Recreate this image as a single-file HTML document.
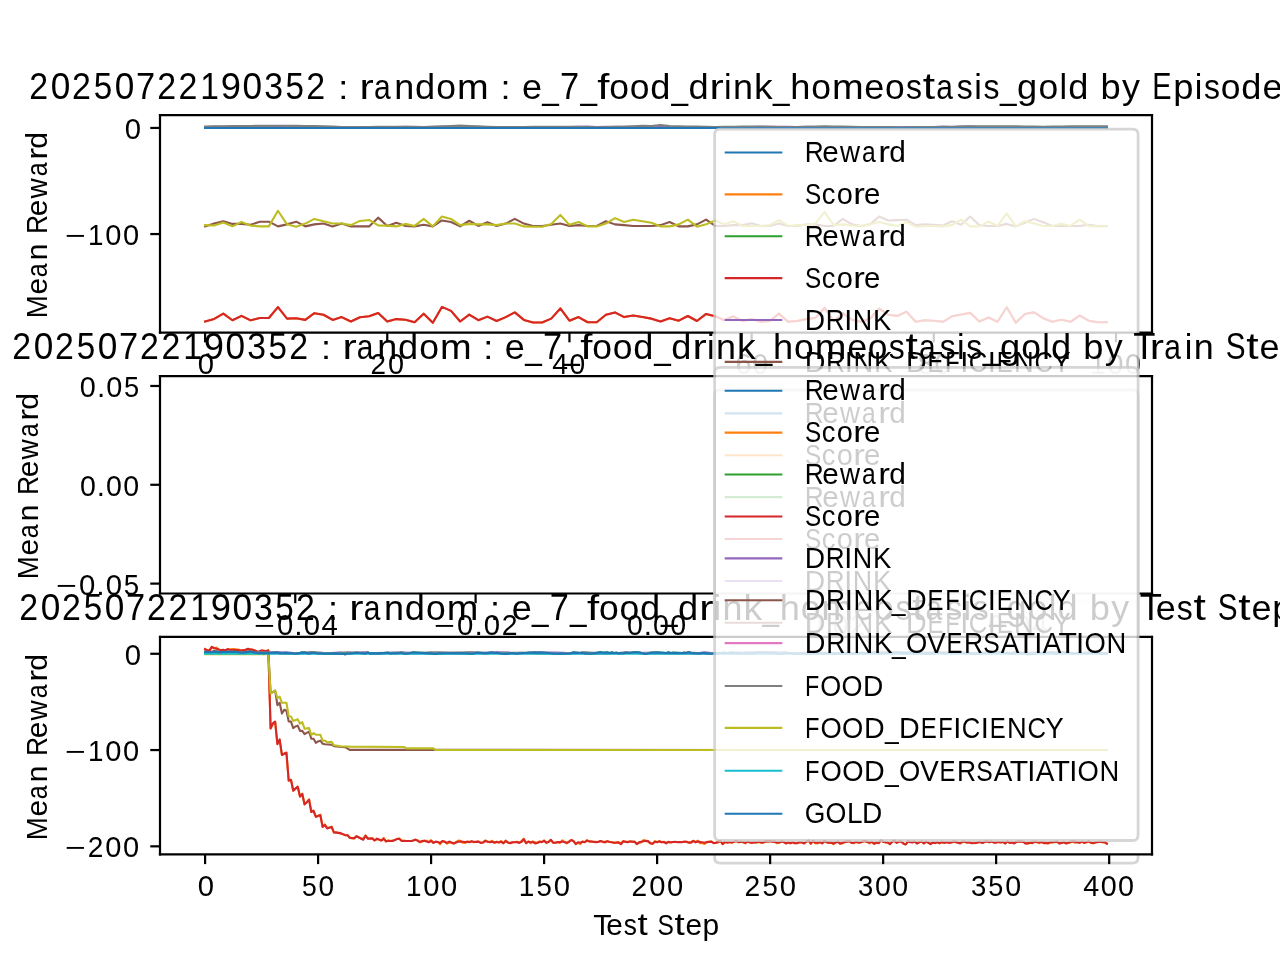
<!DOCTYPE html>
<html><head><meta charset="utf-8"><title>chart</title><style>html,body{margin:0;padding:0;background:#fff;width:1280px;height:960px;overflow:hidden}svg{display:block;will-change:transform}</style></head><body>
<svg width="1280" height="960" viewBox="0 0 460.8 345.6" version="1.1"> <defs> <style type="text/css">*{stroke-linejoin: round; stroke-linecap: butt}</style> </defs> <g id="figure_1"> <g id="patch_1"> <path d="M 0 345.6 L 460.8 345.6 L 460.8 0 L 0 0 z " style="fill: #ffffff"/> </g> <g id="axes_1"> <g id="patch_2"> <path d="M 57.6 119.74 L 414.72 119.74 L 414.72 41.47 L 57.6 41.47 z " style="fill: #ffffff"/> </g> <g id="matplotlib.axis_1"> <g id="xtick_1"> <g id="line2d_1"> <defs> <path id="m082732734f" d="M 0 0 L 0 3.5 " style="stroke: #000000; stroke-width: 0.8"/> </defs> <g> <use href="#m082732734f" x="73.83" y="119.74" style="stroke: #000000; stroke-width: 0.8"/> </g> </g> <g id="text_1"> <text x="71.23" y="134.66" textLength="5.86" lengthAdjust="spacingAndGlyphs" style="font-size:10.55px;font-family:'Liberation Sans',sans-serif;font-kerning:none" transform="rotate(-0 73.83 134.66)">0</text> </g> </g> <g id="xtick_2"> <g id="line2d_2"> <g> <use href="#m082732734f" x="139.41" y="119.74" style="stroke: #000000; stroke-width: 0.8"/> </g> </g> <g id="text_2"> <g style="font-size:10.55px;font-family:'Liberation Sans',sans-serif;font-kerning:none" transform="rotate(-0 139.41 134.66)"><text x="133.42" y="134.66" textLength="5.58" lengthAdjust="spacingAndGlyphs" font-size="10.84">2</text><text x="139.70" y="134.66" textLength="5.78" lengthAdjust="spacingAndGlyphs" font-size="10.84">0</text></g> </g> </g> <g id="xtick_3"> <g id="line2d_3"> <g> <use href="#m082732734f" x="205.00" y="119.74" style="stroke: #000000; stroke-width: 0.8"/> </g> </g> <g id="text_3"> <g style="font-size:10.55px;font-family:'Liberation Sans',sans-serif;font-kerning:none" transform="rotate(-0 205.00 134.66)"><text x="198.85" y="134.66" textLength="5.66" lengthAdjust="spacingAndGlyphs" font-size="10.81">4</text><text x="204.98" y="134.66" textLength="5.66" lengthAdjust="spacingAndGlyphs" font-size="10.84">0</text></g> </g> </g> <g id="xtick_4"> <g id="line2d_4"> <g> <use href="#m082732734f" x="270.59" y="119.74" style="stroke: #000000; stroke-width: 0.8"/> </g> </g> <g id="text_4"> <g style="font-size:10.55px;font-family:'Liberation Sans',sans-serif;font-kerning:none" transform="rotate(-0 270.59 134.66)"><text x="264.79" y="134.66" textLength="5.78" lengthAdjust="spacingAndGlyphs" font-size="10.84">6</text><text x="270.93" y="134.66" textLength="5.58" lengthAdjust="spacingAndGlyphs" font-size="10.84">0</text></g> </g> </g> <g id="xtick_5"> <g id="line2d_5"> <g> <use href="#m082732734f" x="336.17" y="119.74" style="stroke: #000000; stroke-width: 0.8"/> </g> </g> <g id="text_5"> <g style="font-size:10.55px;font-family:'Liberation Sans',sans-serif;font-kerning:none" transform="rotate(-0 336.17 134.66)"><text x="330.40" y="134.66" textLength="5.63" lengthAdjust="spacingAndGlyphs" font-size="10.84">8</text><text x="336.46" y="134.66" textLength="5.57" lengthAdjust="spacingAndGlyphs" font-size="10.84">0</text></g> </g> </g> <g id="xtick_6"> <g id="line2d_6"> <g> <use href="#m082732734f" x="401.76" y="119.74" style="stroke: #000000; stroke-width: 0.8"/> </g> </g> <g id="text_6"> <g style="font-size:10.55px;font-family:'Liberation Sans',sans-serif;font-kerning:none" transform="rotate(-0 401.76 134.66)"><text x="392.36" y="134.66" textLength="5.58" lengthAdjust="spacingAndGlyphs" font-size="10.81">1</text><text x="398.60" y="134.66" textLength="5.84" lengthAdjust="spacingAndGlyphs" font-size="10.84">0</text><text x="404.97" y="134.66" textLength="5.84" lengthAdjust="spacingAndGlyphs" font-size="10.84">0</text></g> </g> </g> </g> <g id="matplotlib.axis_2"> <g id="ytick_1"> <g id="line2d_7"> <defs> <path id="mf66d849884" d="M 0 0 L -3.5 0 " style="stroke: #000000; stroke-width: 0.8"/> </defs> <g> <use href="#mf66d849884" x="57.6" y="84.26" style="stroke: #000000; stroke-width: 0.8"/> </g> </g> <g id="text_7"> <g style="font-size:10.55px;font-family:'Liberation Sans',sans-serif;font-kerning:none" transform="rotate(-0 50.6 88.22)"><text x="23.49" y="88.23" textLength="7.47" lengthAdjust="spacingAndGlyphs" font-size="9.83">−</text><text x="31.71" y="88.23" textLength="5.56" lengthAdjust="spacingAndGlyphs" font-size="10.81">1</text><text x="37.92" y="88.23" textLength="5.82" lengthAdjust="spacingAndGlyphs" font-size="10.84">0</text><text x="44.27" y="88.23" textLength="5.82" lengthAdjust="spacingAndGlyphs" font-size="10.84">0</text></g> </g> </g> <g id="ytick_2"> <g id="line2d_8"> <g> <use href="#mf66d849884" x="57.6" y="46.06" style="stroke: #000000; stroke-width: 0.8"/> </g> </g> <g id="text_8"> <text x="44.95" y="50.02" textLength="5.86" lengthAdjust="spacingAndGlyphs" style="font-size:10.55px;font-family:'Liberation Sans',sans-serif;font-kerning:none" transform="rotate(-0 50.6 50.02)">0</text> </g> </g> <g id="text_9"> <g style="font-size:10.55px;font-family:'Liberation Sans',sans-serif;font-kerning:none" transform="rotate(-90 16.94 80.60)"><text x="-17.02" y="80.61" textLength="8.28" lengthAdjust="spacingAndGlyphs" font-size="10.81">M</text><text x="-8.48" y="80.61" textLength="5.99" lengthAdjust="spacingAndGlyphs" font-size="10.62">e</text><text x="-2.26" y="80.61" textLength="4.98" lengthAdjust="spacingAndGlyphs" font-size="10.62">a</text><text x="3.81" y="80.61" textLength="5.98" lengthAdjust="spacingAndGlyphs" font-size="10.62">n</text><text x="13.32" y="80.61" textLength="6.88" lengthAdjust="spacingAndGlyphs" font-size="10.81">R</text><text x="19.68" y="80.61" textLength="5.99" lengthAdjust="spacingAndGlyphs" font-size="10.62">e</text><text x="26.12" y="80.61" textLength="7.27" lengthAdjust="spacingAndGlyphs" font-size="10.56">w</text><text x="34.06" y="80.61" textLength="4.98" lengthAdjust="spacingAndGlyphs" font-size="10.62">a</text><text x="40.00" y="80.61" textLength="4.25" lengthAdjust="spacingAndGlyphs" font-size="10.62">r</text><text x="43.99" y="80.61" textLength="6.02" lengthAdjust="spacingAndGlyphs" font-size="10.69">d</text></g> </g> </g> <g id="line2d_9"> <path d="M 73.83 46.06 L 77.11 46.06 L 80.39 46.06 L 83.67 46.06 L 86.95 46.06 L 90.22 46.06 L 93.50 46.06 L 96.78 46.06 L 100.06 46.06 L 103.34 46.06 L 106.62 46.06 L 109.90 46.06 L 113.18 46.06 L 116.46 46.06 L 119.74 46.06 L 123.02 46.06 L 126.30 46.06 L 129.58 46.06 L 132.86 46.06 L 136.14 46.06 L 139.41 46.06 L 142.69 46.06 L 145.97 46.06 L 149.25 46.06 L 152.53 46.06 L 155.81 46.06 L 159.09 46.06 L 162.37 46.06 L 165.65 46.06 L 168.93 46.06 L 172.21 46.06 L 175.49 46.06 L 178.77 46.06 L 182.05 46.06 L 185.33 46.06 L 188.60 46.06 L 191.88 46.06 L 195.16 46.06 L 198.44 46.06 L 201.72 46.06 L 205.00 46.06 L 208.28 46.06 L 211.56 46.06 L 214.84 46.06 L 218.12 46.06 L 221.40 46.06 L 224.68 46.06 L 227.96 46.06 L 231.24 46.06 L 234.52 46.06 L 237.79 46.06 L 241.07 46.06 L 244.35 46.06 L 247.63 46.06 L 250.91 46.06 L 254.19 46.06 L 257.47 46.06 L 260.75 46.06 L 264.03 46.06 L 267.31 46.06 L 270.59 46.06 L 273.87 46.06 L 277.15 46.06 L 280.43 46.06 L 283.71 46.06 L 286.98 46.06 L 290.26 46.06 L 293.54 46.06 L 296.82 46.06 L 300.10 46.06 L 303.38 46.06 L 306.66 46.06 L 309.94 46.06 L 313.22 46.06 L 316.50 46.06 L 319.78 46.06 L 323.06 46.06 L 326.34 46.06 L 329.62 46.06 L 332.90 46.06 L 336.17 46.06 L 339.45 46.06 L 342.73 46.06 L 346.01 46.06 L 349.29 46.06 L 352.57 46.06 L 355.85 46.06 L 359.13 46.06 L 362.41 46.06 L 365.69 46.06 L 368.97 46.06 L 372.25 46.06 L 375.53 46.06 L 378.81 46.06 L 382.09 46.06 L 385.36 46.06 L 388.64 46.06 L 391.92 46.06 L 395.20 46.06 L 398.48 46.06 " clip-path="url(#p823a77c8c9)" style="fill: none; stroke: #1f77b4; stroke-width: 0.75; stroke-linecap: square"/> </g> <g id="line2d_10"> <path d="M 73.83 115.73 L 77.11 114.83 L 80.39 112.91 L 83.67 115.28 L 86.95 113.70 L 90.22 115.33 L 93.50 114.49 L 96.78 114.49 L 100.06 110.55 L 103.34 114.71 L 106.62 114.60 L 109.90 115.16 L 113.18 112.74 L 116.46 113.31 L 119.74 115.16 L 123.02 114.15 L 126.30 115.73 L 129.58 114.21 L 132.86 113.87 L 136.14 112.69 L 139.41 115.73 L 142.69 114.88 L 145.97 115.11 L 149.25 116.01 L 152.53 112.91 L 155.81 116.18 L 159.09 110.49 L 162.37 111.90 L 165.65 115.73 L 168.93 113.25 L 172.21 115.28 L 175.49 113.98 L 178.77 115.56 L 182.05 114.15 L 185.33 112.46 L 188.60 115.16 L 191.88 116.12 L 195.16 116.12 L 198.44 114.71 L 201.72 111.05 L 205.00 115.45 L 208.28 114.15 L 211.56 116.01 L 214.84 116.01 L 218.12 113.31 L 221.40 112.46 L 224.68 114.15 L 227.96 113.59 L 231.24 114.15 L 234.52 114.71 L 237.79 115.73 L 241.07 114.60 L 244.35 115.45 L 247.63 113.76 L 250.91 115.56 L 254.19 113.02 L 257.47 113.87 L 260.75 115.28 L 264.03 113.87 L 267.31 115.56 L 270.59 114.88 L 273.87 115.84 L 277.15 115.56 L 280.43 112.91 L 283.71 115.84 L 286.98 115.56 L 290.26 114.88 L 293.54 114.43 L 296.82 110.77 L 300.10 115.56 L 303.38 112.74 L 306.66 115.11 L 309.94 115.84 L 313.22 114.71 L 316.50 111.05 L 319.78 113.31 L 323.06 113.76 L 326.34 112.18 L 329.62 115.84 L 332.90 115.28 L 336.17 115.45 L 339.45 115.84 L 342.73 113.87 L 346.01 113.19 L 349.29 112.63 L 352.57 115.73 L 355.85 114.32 L 359.13 115.84 L 362.41 110.60 L 365.69 116.18 L 368.97 113.02 L 372.25 112.46 L 375.53 114.54 L 378.81 115.84 L 382.09 115.11 L 385.36 115.84 L 388.64 113.59 L 391.92 115.45 L 395.20 116.01 L 398.48 116.01 " clip-path="url(#p823a77c8c9)" style="fill: none; stroke: #ff7f0e; stroke-width: 0.75; stroke-linecap: square"/> </g> <g id="line2d_11"> <path d="M 73.83 46.06 L 77.11 46.06 L 80.39 46.06 L 83.67 46.06 L 86.95 46.06 L 90.22 46.06 L 93.50 46.06 L 96.78 46.06 L 100.06 46.06 L 103.34 46.06 L 106.62 46.06 L 109.90 46.06 L 113.18 46.06 L 116.46 46.06 L 119.74 46.06 L 123.02 46.06 L 126.30 46.06 L 129.58 46.06 L 132.86 46.06 L 136.14 46.06 L 139.41 46.06 L 142.69 46.06 L 145.97 46.06 L 149.25 46.06 L 152.53 46.06 L 155.81 46.06 L 159.09 46.06 L 162.37 46.06 L 165.65 46.06 L 168.93 46.06 L 172.21 46.06 L 175.49 46.06 L 178.77 46.06 L 182.05 46.06 L 185.33 46.06 L 188.60 46.06 L 191.88 46.06 L 195.16 46.06 L 198.44 46.06 L 201.72 46.06 L 205.00 46.06 L 208.28 46.06 L 211.56 46.06 L 214.84 46.06 L 218.12 46.06 L 221.40 46.06 L 224.68 46.06 L 227.96 46.06 L 231.24 46.06 L 234.52 46.06 L 237.79 46.06 L 241.07 46.06 L 244.35 46.06 L 247.63 46.06 L 250.91 46.06 L 254.19 46.06 L 257.47 46.06 L 260.75 46.06 L 264.03 46.06 L 267.31 46.06 L 270.59 46.06 L 273.87 46.06 L 277.15 46.06 L 280.43 46.06 L 283.71 46.06 L 286.98 46.06 L 290.26 46.06 L 293.54 46.06 L 296.82 46.06 L 300.10 46.06 L 303.38 46.06 L 306.66 46.06 L 309.94 46.06 L 313.22 46.06 L 316.50 46.06 L 319.78 46.06 L 323.06 46.06 L 326.34 46.06 L 329.62 46.06 L 332.90 46.06 L 336.17 46.06 L 339.45 46.06 L 342.73 46.06 L 346.01 46.06 L 349.29 46.06 L 352.57 46.06 L 355.85 46.06 L 359.13 46.06 L 362.41 46.06 L 365.69 46.06 L 368.97 46.06 L 372.25 46.06 L 375.53 46.06 L 378.81 46.06 L 382.09 46.06 L 385.36 46.06 L 388.64 46.06 L 391.92 46.06 L 395.20 46.06 L 398.48 46.06 " clip-path="url(#p823a77c8c9)" style="fill: none; stroke: #2ca02c; stroke-width: 0.75; stroke-linecap: square"/> </g> <g id="line2d_12"> <path d="M 73.83 115.73 L 77.11 114.83 L 80.39 112.91 L 83.67 115.28 L 86.95 113.70 L 90.22 115.33 L 93.50 114.49 L 96.78 114.49 L 100.06 110.55 L 103.34 114.71 L 106.62 114.60 L 109.90 115.16 L 113.18 112.74 L 116.46 113.31 L 119.74 115.16 L 123.02 114.15 L 126.30 115.73 L 129.58 114.21 L 132.86 113.87 L 136.14 112.69 L 139.41 115.73 L 142.69 114.88 L 145.97 115.11 L 149.25 116.01 L 152.53 112.91 L 155.81 116.18 L 159.09 110.49 L 162.37 111.90 L 165.65 115.73 L 168.93 113.25 L 172.21 115.28 L 175.49 113.98 L 178.77 115.56 L 182.05 114.15 L 185.33 112.46 L 188.60 115.16 L 191.88 116.12 L 195.16 116.12 L 198.44 114.71 L 201.72 111.05 L 205.00 115.45 L 208.28 114.15 L 211.56 116.01 L 214.84 116.01 L 218.12 113.31 L 221.40 112.46 L 224.68 114.15 L 227.96 113.59 L 231.24 114.15 L 234.52 114.71 L 237.79 115.73 L 241.07 114.60 L 244.35 115.45 L 247.63 113.76 L 250.91 115.56 L 254.19 113.02 L 257.47 113.87 L 260.75 115.28 L 264.03 113.87 L 267.31 115.56 L 270.59 114.88 L 273.87 115.84 L 277.15 115.56 L 280.43 112.91 L 283.71 115.84 L 286.98 115.56 L 290.26 114.88 L 293.54 114.43 L 296.82 110.77 L 300.10 115.56 L 303.38 112.74 L 306.66 115.11 L 309.94 115.84 L 313.22 114.71 L 316.50 111.05 L 319.78 113.31 L 323.06 113.76 L 326.34 112.18 L 329.62 115.84 L 332.90 115.28 L 336.17 115.45 L 339.45 115.84 L 342.73 113.87 L 346.01 113.19 L 349.29 112.63 L 352.57 115.73 L 355.85 114.32 L 359.13 115.84 L 362.41 110.60 L 365.69 116.18 L 368.97 113.02 L 372.25 112.46 L 375.53 114.54 L 378.81 115.84 L 382.09 115.11 L 385.36 115.84 L 388.64 113.59 L 391.92 115.45 L 395.20 116.01 L 398.48 116.01 " clip-path="url(#p823a77c8c9)" style="fill: none; stroke: #d62728; stroke-width: 0.75; stroke-linecap: square"/> </g> <g id="line2d_13"> <path d="M 73.83 45.75 L 77.11 45.63 L 80.39 45.60 L 83.67 45.67 L 86.95 45.64 L 90.22 45.65 L 93.50 45.59 L 96.78 45.65 L 100.06 45.64 L 103.34 45.82 L 106.62 45.67 L 109.90 45.81 L 113.18 45.80 L 116.46 45.87 L 119.74 45.90 L 123.02 45.86 L 126.30 45.82 L 129.58 45.86 L 132.86 45.82 L 136.14 45.73 L 139.41 45.78 L 142.69 45.77 L 145.97 45.63 L 149.25 45.67 L 152.53 45.73 L 155.81 45.67 L 159.09 45.66 L 162.37 45.73 L 165.65 45.78 L 168.93 45.74 L 172.21 45.73 L 175.49 45.84 L 178.77 45.90 L 182.05 45.85 L 185.33 45.84 L 188.60 45.90 L 191.88 45.83 L 195.16 45.77 L 198.44 45.80 L 201.72 45.80 L 205.00 45.69 L 208.28 45.65 L 211.56 45.58 L 214.84 45.70 L 218.12 45.65 L 221.40 45.67 L 224.68 45.75 L 227.96 45.67 L 231.24 45.69 L 234.52 45.81 L 237.79 45.73 L 241.07 45.79 L 244.35 45.83 L 247.63 45.86 L 250.91 45.83 L 254.19 45.95 L 257.47 45.81 L 260.75 45.78 L 264.03 45.87 L 267.31 45.71 L 270.59 45.70 L 273.87 45.61 L 277.15 45.65 L 280.43 45.62 L 283.71 45.60 L 286.98 45.69 L 290.26 45.63 L 293.54 45.71 L 296.82 45.71 L 300.10 45.82 L 303.38 45.76 L 306.66 45.82 L 309.94 45.89 L 313.22 45.85 L 316.50 45.81 L 319.78 45.76 L 323.06 45.92 L 326.34 45.74 L 329.62 45.72 L 332.90 45.71 L 336.17 45.72 L 339.45 45.57 L 342.73 45.69 L 346.01 45.58 L 349.29 45.55 L 352.57 45.74 L 355.85 45.70 L 359.13 45.80 L 362.41 45.75 L 365.69 45.72 L 368.97 45.73 L 372.25 45.97 L 375.53 45.92 L 378.81 45.84 L 382.09 45.78 L 385.36 45.82 L 388.64 45.85 L 391.92 45.75 L 395.20 45.73 L 398.48 45.70 " clip-path="url(#p823a77c8c9)" style="fill: none; stroke: #9467bd; stroke-width: 0.75; stroke-linecap: square"/> </g> <g id="line2d_14"> <path d="M 73.83 81.50 L 77.11 80.49 L 80.39 79.64 L 83.67 80.60 L 86.95 80.60 L 90.22 80.94 L 93.50 79.81 L 96.78 79.81 L 100.06 81.50 L 103.34 80.77 L 106.62 79.81 L 109.90 81.50 L 113.18 80.77 L 116.46 80.49 L 119.74 81.50 L 123.02 80.49 L 126.30 81.50 L 129.58 81.50 L 132.86 81.50 L 136.14 78.35 L 139.41 81.33 L 142.69 80.20 L 145.97 81.33 L 149.25 81.50 L 152.53 80.94 L 155.81 81.50 L 159.09 79.36 L 162.37 79.92 L 165.65 81.50 L 168.93 79.47 L 172.21 81.33 L 175.49 80.03 L 178.77 81.33 L 182.05 80.49 L 185.33 78.80 L 188.60 80.49 L 191.88 81.33 L 195.16 81.33 L 198.44 80.94 L 201.72 80.49 L 205.00 81.33 L 208.28 81.05 L 211.56 81.33 L 214.84 81.33 L 218.12 79.64 L 221.40 80.77 L 224.68 81.05 L 227.96 81.33 L 231.24 81.33 L 234.52 81.33 L 237.79 81.05 L 241.07 79.92 L 244.35 81.50 L 247.63 81.50 L 250.91 80.77 L 254.19 79.08 L 257.47 81.33 L 260.75 81.33 L 264.03 81.05 L 267.31 81.05 L 270.59 80.37 L 273.87 81.33 L 277.15 81.33 L 280.43 80.49 L 283.71 81.33 L 286.98 81.33 L 290.26 80.77 L 293.54 80.77 L 296.82 81.33 L 300.10 81.33 L 303.38 78.80 L 306.66 80.77 L 309.94 81.33 L 313.22 80.77 L 316.50 77.95 L 319.78 79.36 L 323.06 79.25 L 326.34 79.08 L 329.62 81.05 L 332.90 80.77 L 336.17 80.94 L 339.45 81.16 L 342.73 79.64 L 346.01 80.94 L 349.29 77.95 L 352.57 81.05 L 355.85 81.33 L 359.13 81.33 L 362.41 80.60 L 365.69 81.50 L 368.97 80.20 L 372.25 78.80 L 375.53 80.03 L 378.81 81.33 L 382.09 81.33 L 385.36 81.33 L 388.64 81.33 L 391.92 80.94 L 395.20 81.33 L 398.48 81.33 " clip-path="url(#p823a77c8c9)" style="fill: none; stroke: #8c564b; stroke-width: 0.75; stroke-linecap: square"/> </g> <g id="line2d_15"> <path d="M 73.83 45.97 L 77.11 46.05 L 80.39 45.99 L 83.67 46.02 L 86.95 46.03 L 90.22 45.89 L 93.50 45.95 L 96.78 46.00 L 100.06 46.01 L 103.34 46.01 L 106.62 46.01 L 109.90 45.96 L 113.18 45.99 L 116.46 45.98 L 119.74 46.05 L 123.02 46.00 L 126.30 46.00 L 129.58 46.02 L 132.86 45.97 L 136.14 46.01 L 139.41 46.05 L 142.69 46.04 L 145.97 46.03 L 149.25 45.91 L 152.53 46.05 L 155.81 46.04 L 159.09 45.97 L 162.37 46.01 L 165.65 46.01 L 168.93 46.00 L 172.21 45.90 L 175.49 46.00 L 178.77 45.92 L 182.05 45.89 L 185.33 45.99 L 188.60 46.03 L 191.88 46.02 L 195.16 46.01 L 198.44 46.01 L 201.72 46.04 L 205.00 46.04 L 208.28 45.94 L 211.56 46.04 L 214.84 46.00 L 218.12 46.05 L 221.40 46.02 L 224.68 46.01 L 227.96 45.99 L 231.24 46.03 L 234.52 46.03 L 237.79 46.05 L 241.07 46.02 L 244.35 46.04 L 247.63 46.02 L 250.91 46.03 L 254.19 46.06 L 257.47 46.01 L 260.75 45.95 L 264.03 45.99 L 267.31 46.00 L 270.59 46.00 L 273.87 46.04 L 277.15 46.01 L 280.43 46.03 L 283.71 46.01 L 286.98 45.97 L 290.26 45.99 L 293.54 45.96 L 296.82 46.05 L 300.10 45.97 L 303.38 46.06 L 306.66 45.94 L 309.94 45.92 L 313.22 45.94 L 316.50 46.02 L 319.78 46.01 L 323.06 45.95 L 326.34 46.03 L 329.62 45.98 L 332.90 46.02 L 336.17 46.04 L 339.45 45.98 L 342.73 46.04 L 346.01 46.03 L 349.29 46.05 L 352.57 46.01 L 355.85 45.98 L 359.13 46.00 L 362.41 46.02 L 365.69 45.97 L 368.97 46.03 L 372.25 45.93 L 375.53 45.98 L 378.81 46.02 L 382.09 46.00 L 385.36 46.02 L 388.64 46.05 L 391.92 46.05 L 395.20 45.88 L 398.48 46.04 " clip-path="url(#p823a77c8c9)" style="fill: none; stroke: #e377c2; stroke-width: 0.75; stroke-linecap: square"/> </g> <g id="line2d_16"> <path d="M 73.83 45.56 L 77.11 45.50 L 80.39 45.45 L 83.67 45.40 L 86.95 45.35 L 90.22 45.33 L 93.50 45.31 L 96.78 45.30 L 100.06 45.28 L 103.34 45.30 L 106.62 45.32 L 109.90 45.34 L 113.18 45.36 L 116.46 45.47 L 119.74 45.58 L 123.02 45.69 L 126.30 45.81 L 129.58 45.76 L 132.86 45.71 L 136.14 45.66 L 139.41 45.61 L 142.69 45.64 L 145.97 45.67 L 149.25 45.70 L 152.53 45.73 L 155.81 45.60 L 159.09 45.47 L 162.37 45.34 L 165.65 45.22 L 168.93 45.35 L 172.21 45.48 L 175.49 45.61 L 178.77 45.74 L 182.05 45.72 L 185.33 45.71 L 188.60 45.69 L 191.88 45.68 L 195.16 45.66 L 198.44 45.64 L 201.72 45.63 L 205.00 45.61 L 208.28 45.65 L 211.56 45.70 L 214.84 45.74 L 218.12 45.79 L 221.40 45.67 L 224.68 45.54 L 227.96 45.42 L 231.24 45.29 L 234.52 45.33 L 237.79 45.02 L 241.07 45.40 L 244.35 45.44 L 247.63 45.51 L 250.91 45.58 L 254.19 45.66 L 257.47 45.73 L 260.75 45.68 L 264.03 45.63 L 267.31 45.57 L 270.59 45.52 L 273.87 45.59 L 277.15 45.65 L 280.43 45.71 L 283.71 45.78 L 286.98 45.70 L 290.26 45.62 L 293.54 45.53 L 296.82 45.45 L 300.10 45.51 L 303.38 45.57 L 306.66 45.63 L 309.94 45.69 L 313.22 45.71 L 316.50 45.74 L 319.78 45.77 L 323.06 45.80 L 326.34 45.79 L 329.62 45.78 L 332.90 45.77 L 336.17 45.76 L 339.45 45.69 L 342.73 45.62 L 346.01 45.55 L 349.29 45.49 L 352.57 45.48 L 355.85 45.46 L 359.13 45.45 L 362.41 45.44 L 365.69 45.49 L 368.97 45.53 L 372.25 45.58 L 375.53 45.63 L 378.81 45.58 L 382.09 45.53 L 385.36 45.48 L 388.64 45.43 L 391.92 45.43 L 395.20 45.43 L 398.48 45.43 " clip-path="url(#p823a77c8c9)" style="fill: none; stroke: #7f7f7f; stroke-width: 0.75; stroke-linecap: square"/> </g> <g id="line2d_17"> <path d="M 73.83 81.05 L 77.11 81.16 L 80.39 80.09 L 83.67 81.50 L 86.95 79.92 L 90.22 81.22 L 93.50 81.50 L 96.78 81.50 L 100.06 75.87 L 103.34 80.77 L 106.62 81.61 L 109.90 80.49 L 113.18 78.80 L 116.46 79.64 L 119.74 80.49 L 123.02 80.49 L 126.30 81.05 L 129.58 79.53 L 132.86 79.19 L 136.14 81.16 L 139.41 81.22 L 142.69 81.50 L 145.97 80.60 L 149.25 81.33 L 152.53 78.80 L 155.81 81.50 L 159.09 77.95 L 162.37 78.80 L 165.65 81.05 L 168.93 80.60 L 172.21 80.77 L 175.49 80.77 L 178.77 81.05 L 182.05 80.49 L 185.33 80.49 L 188.60 81.50 L 191.88 81.61 L 195.16 81.61 L 198.44 80.60 L 201.72 77.39 L 205.00 80.94 L 208.28 79.92 L 211.56 81.50 L 214.84 81.50 L 218.12 80.49 L 221.40 78.51 L 224.68 79.92 L 227.96 79.08 L 231.24 79.64 L 234.52 80.20 L 237.79 81.50 L 241.07 81.50 L 244.35 80.77 L 247.63 79.08 L 250.91 81.61 L 254.19 80.77 L 257.47 79.36 L 260.75 80.77 L 264.03 79.64 L 267.31 81.33 L 270.59 81.33 L 273.87 81.33 L 277.15 81.05 L 280.43 79.25 L 283.71 81.33 L 286.98 81.05 L 290.26 80.94 L 293.54 80.49 L 296.82 76.26 L 300.10 81.05 L 303.38 80.77 L 306.66 81.16 L 309.94 81.33 L 313.22 80.77 L 316.50 79.92 L 319.78 80.77 L 323.06 81.33 L 326.34 79.92 L 329.62 81.61 L 332.90 81.33 L 336.17 81.33 L 339.45 81.50 L 342.73 81.05 L 346.01 79.08 L 349.29 81.50 L 352.57 81.50 L 355.85 79.81 L 359.13 81.33 L 362.41 76.83 L 365.69 81.50 L 368.97 79.64 L 372.25 80.49 L 375.53 81.33 L 378.81 81.33 L 382.09 80.60 L 385.36 81.33 L 388.64 79.08 L 391.92 81.33 L 395.20 81.50 L 398.48 81.50 " clip-path="url(#p823a77c8c9)" style="fill: none; stroke: #bcbd22; stroke-width: 0.75; stroke-linecap: square"/> </g> <g id="line2d_18"> <path d="M 73.83 46.06 L 77.11 46.06 L 80.39 46.06 L 83.67 46.06 L 86.95 46.06 L 90.22 46.06 L 93.50 46.06 L 96.78 46.06 L 100.06 46.06 L 103.34 46.06 L 106.62 46.06 L 109.90 46.06 L 113.18 46.06 L 116.46 46.06 L 119.74 46.06 L 123.02 46.06 L 126.30 46.06 L 129.58 46.06 L 132.86 46.06 L 136.14 46.06 L 139.41 46.06 L 142.69 46.06 L 145.97 46.06 L 149.25 46.06 L 152.53 46.06 L 155.81 46.06 L 159.09 46.06 L 162.37 46.06 L 165.65 46.06 L 168.93 46.06 L 172.21 46.06 L 175.49 46.06 L 178.77 46.06 L 182.05 46.06 L 185.33 46.06 L 188.60 46.06 L 191.88 46.06 L 195.16 46.06 L 198.44 46.06 L 201.72 46.06 L 205.00 46.06 L 208.28 46.06 L 211.56 46.06 L 214.84 46.06 L 218.12 46.06 L 221.40 46.06 L 224.68 46.06 L 227.96 46.06 L 231.24 46.06 L 234.52 46.06 L 237.79 46.06 L 241.07 46.06 L 244.35 46.06 L 247.63 46.06 L 250.91 46.06 L 254.19 46.06 L 257.47 46.06 L 260.75 46.06 L 264.03 46.06 L 267.31 46.06 L 270.59 46.06 L 273.87 46.06 L 277.15 46.06 L 280.43 46.06 L 283.71 46.06 L 286.98 46.06 L 290.26 46.06 L 293.54 46.06 L 296.82 46.06 L 300.10 46.06 L 303.38 46.06 L 306.66 46.06 L 309.94 46.06 L 313.22 46.06 L 316.50 46.06 L 319.78 46.06 L 323.06 46.06 L 326.34 46.06 L 329.62 46.06 L 332.90 46.06 L 336.17 46.06 L 339.45 46.06 L 342.73 46.06 L 346.01 46.06 L 349.29 46.06 L 352.57 46.06 L 355.85 46.06 L 359.13 46.06 L 362.41 46.06 L 365.69 46.06 L 368.97 46.06 L 372.25 46.06 L 375.53 46.06 L 378.81 46.06 L 382.09 46.06 L 385.36 46.06 L 388.64 46.06 L 391.92 46.06 L 395.20 46.06 L 398.48 46.06 " clip-path="url(#p823a77c8c9)" style="fill: none; stroke: #17becf; stroke-width: 0.75; stroke-linecap: square"/> </g> <g id="line2d_19"> <path d="M 73.83 46.06 L 77.11 46.06 L 80.39 46.06 L 83.67 46.06 L 86.95 46.06 L 90.22 46.06 L 93.50 46.06 L 96.78 46.06 L 100.06 46.06 L 103.34 46.06 L 106.62 46.06 L 109.90 46.06 L 113.18 46.06 L 116.46 46.06 L 119.74 46.06 L 123.02 46.06 L 126.30 46.06 L 129.58 46.06 L 132.86 46.06 L 136.14 46.06 L 139.41 46.06 L 142.69 46.06 L 145.97 46.06 L 149.25 46.06 L 152.53 46.06 L 155.81 46.06 L 159.09 46.06 L 162.37 46.06 L 165.65 46.06 L 168.93 46.06 L 172.21 46.06 L 175.49 46.06 L 178.77 46.06 L 182.05 46.06 L 185.33 46.06 L 188.60 46.06 L 191.88 46.06 L 195.16 46.06 L 198.44 46.06 L 201.72 46.06 L 205.00 46.06 L 208.28 46.06 L 211.56 46.06 L 214.84 46.06 L 218.12 46.06 L 221.40 46.06 L 224.68 46.06 L 227.96 46.06 L 231.24 46.06 L 234.52 46.06 L 237.79 46.06 L 241.07 46.06 L 244.35 46.06 L 247.63 46.06 L 250.91 46.06 L 254.19 46.06 L 257.47 46.06 L 260.75 46.06 L 264.03 46.06 L 267.31 46.06 L 270.59 46.06 L 273.87 46.06 L 277.15 46.06 L 280.43 46.06 L 283.71 46.06 L 286.98 46.06 L 290.26 46.06 L 293.54 46.06 L 296.82 46.06 L 300.10 46.06 L 303.38 46.06 L 306.66 46.06 L 309.94 46.06 L 313.22 46.06 L 316.50 46.06 L 319.78 46.06 L 323.06 46.06 L 326.34 46.06 L 329.62 46.06 L 332.90 46.06 L 336.17 46.06 L 339.45 46.06 L 342.73 46.06 L 346.01 46.06 L 349.29 46.06 L 352.57 46.06 L 355.85 46.06 L 359.13 46.06 L 362.41 46.06 L 365.69 46.06 L 368.97 46.06 L 372.25 46.06 L 375.53 46.06 L 378.81 46.06 L 382.09 46.06 L 385.36 46.06 L 388.64 46.06 L 391.92 46.06 L 395.20 46.06 L 398.48 46.06 " clip-path="url(#p823a77c8c9)" style="fill: none; stroke: #1f77b4; stroke-width: 0.75; stroke-linecap: square"/> </g> <g id="patch_3"> <path d="M 57.6 119.74 L 57.6 41.47 " style="fill: none; stroke: #000000; stroke-width: 0.8; stroke-linejoin: miter; stroke-linecap: square"/> </g> <g id="patch_4"> <path d="M 414.72 119.74 L 414.72 41.47 " style="fill: none; stroke: #000000; stroke-width: 0.8; stroke-linejoin: miter; stroke-linecap: square"/> </g> <g id="patch_5"> <path d="M 57.6 119.74 L 414.72 119.74 " style="fill: none; stroke: #000000; stroke-width: 0.8; stroke-linejoin: miter; stroke-linecap: square"/> </g> <g id="patch_6"> <path d="M 57.6 41.47 L 414.72 41.47 " style="fill: none; stroke: #000000; stroke-width: 0.8; stroke-linejoin: miter; stroke-linecap: square"/> </g> <g id="text_10"> <g style="font-size:12.66px;font-family:'Liberation Sans',sans-serif;font-kerning:none" transform="rotate(-0 236.16 35.47)"><text x="10.55" y="35.47" textLength="6.79" lengthAdjust="spacingAndGlyphs" font-size="13.01">2</text><text x="18.28" y="35.47" textLength="7.04" lengthAdjust="spacingAndGlyphs" font-size="13.01">0</text><text x="25.90" y="35.47" textLength="6.79" lengthAdjust="spacingAndGlyphs" font-size="13.01">2</text><text x="33.79" y="35.47" textLength="6.64" lengthAdjust="spacingAndGlyphs" font-size="12.97">5</text><text x="41.29" y="35.47" textLength="7.04" lengthAdjust="spacingAndGlyphs" font-size="13.01">0</text><text x="49.00" y="35.47" textLength="6.89" lengthAdjust="spacingAndGlyphs" font-size="12.97">7</text><text x="56.57" y="35.47" textLength="6.79" lengthAdjust="spacingAndGlyphs" font-size="13.01">2</text><text x="64.27" y="35.47" textLength="6.79" lengthAdjust="spacingAndGlyphs" font-size="13.01">2</text><text x="72.11" y="35.47" textLength="6.72" lengthAdjust="spacingAndGlyphs" font-size="12.97">1</text><text x="79.51" y="35.47" textLength="7.27" lengthAdjust="spacingAndGlyphs" font-size="13.01">9</text><text x="87.32" y="35.47" textLength="7.04" lengthAdjust="spacingAndGlyphs" font-size="13.01">0</text><text x="95.13" y="35.47" textLength="6.76" lengthAdjust="spacingAndGlyphs" font-size="13.01">3</text><text x="102.78" y="35.47" textLength="6.64" lengthAdjust="spacingAndGlyphs" font-size="12.97">5</text><text x="110.25" y="35.47" textLength="6.79" lengthAdjust="spacingAndGlyphs" font-size="13.01">2</text><text x="121.74" y="35.47" textLength="3.61" lengthAdjust="spacingAndGlyphs" font-size="11.98">:</text><text x="129.47" y="35.47" textLength="5.12" lengthAdjust="spacingAndGlyphs" font-size="12.74">r</text><text x="134.61" y="35.47" textLength="6.01" lengthAdjust="spacingAndGlyphs" font-size="12.74">a</text><text x="141.92" y="35.47" textLength="7.20" lengthAdjust="spacingAndGlyphs" font-size="12.74">n</text><text x="149.42" y="35.47" textLength="7.26" lengthAdjust="spacingAndGlyphs" font-size="12.83">d</text><text x="157.08" y="35.47" textLength="7.10" lengthAdjust="spacingAndGlyphs" font-size="12.74">o</text><text x="164.53" y="35.47" textLength="11.40" lengthAdjust="spacingAndGlyphs" font-size="12.74">m</text><text x="180.15" y="35.47" textLength="3.61" lengthAdjust="spacingAndGlyphs" font-size="11.98">:</text><text x="187.92" y="35.47" textLength="7.21" lengthAdjust="spacingAndGlyphs" font-size="12.74">e</text><text x="195.24" y="35.47" textLength="5.96" lengthAdjust="spacingAndGlyphs">_</text><text x="201.62" y="35.47" textLength="6.89" lengthAdjust="spacingAndGlyphs" font-size="12.97">7</text><text x="208.97" y="35.47" textLength="5.96" lengthAdjust="spacingAndGlyphs">_</text><text x="215.06" y="35.47" textLength="4.38" lengthAdjust="spacingAndGlyphs" font-size="12.85">f</text><text x="219.37" y="35.47" textLength="7.10" lengthAdjust="spacingAndGlyphs" font-size="12.74">o</text><text x="226.75" y="35.47" textLength="7.10" lengthAdjust="spacingAndGlyphs" font-size="12.74">o</text><text x="234.13" y="35.47" textLength="7.26" lengthAdjust="spacingAndGlyphs" font-size="12.83">d</text><text x="241.71" y="35.47" textLength="5.96" lengthAdjust="spacingAndGlyphs">_</text><text x="247.86" y="35.47" textLength="7.26" lengthAdjust="spacingAndGlyphs" font-size="12.83">d</text><text x="255.47" y="35.47" textLength="5.12" lengthAdjust="spacingAndGlyphs" font-size="12.74">r</text><text x="260.67" y="35.47" textLength="2.73" lengthAdjust="spacingAndGlyphs" font-size="12.83">i</text><text x="263.92" y="35.47" textLength="7.20" lengthAdjust="spacingAndGlyphs" font-size="12.74">n</text><text x="271.49" y="35.47" textLength="6.71" lengthAdjust="spacingAndGlyphs" font-size="12.83">k</text><text x="278.28" y="35.47" textLength="5.96" lengthAdjust="spacingAndGlyphs">_</text><text x="284.50" y="35.47" textLength="7.25" lengthAdjust="spacingAndGlyphs" font-size="12.83">h</text><text x="292.05" y="35.47" textLength="7.10" lengthAdjust="spacingAndGlyphs" font-size="12.74">o</text><text x="299.49" y="35.47" textLength="11.40" lengthAdjust="spacingAndGlyphs" font-size="12.74">m</text><text x="311.18" y="35.47" textLength="7.21" lengthAdjust="spacingAndGlyphs" font-size="12.74">e</text><text x="318.58" y="35.47" textLength="7.10" lengthAdjust="spacingAndGlyphs" font-size="12.74">o</text><text x="326.17" y="35.47" textLength="5.76" lengthAdjust="spacingAndGlyphs" font-size="12.77">s</text><text x="332.18" y="35.47" textLength="4.46" lengthAdjust="spacingAndGlyphs" font-size="13.29">t</text><text x="337.04" y="35.47" textLength="6.01" lengthAdjust="spacingAndGlyphs" font-size="12.74">a</text><text x="344.45" y="35.47" textLength="5.76" lengthAdjust="spacingAndGlyphs" font-size="12.77">s</text><text x="350.69" y="35.47" textLength="2.73" lengthAdjust="spacingAndGlyphs" font-size="12.83">i</text><text x="354.04" y="35.47" textLength="5.76" lengthAdjust="spacingAndGlyphs" font-size="12.77">s</text><text x="360.02" y="35.47" textLength="5.96" lengthAdjust="spacingAndGlyphs">_</text><text x="366.17" y="35.47" textLength="7.26" lengthAdjust="spacingAndGlyphs">g</text><text x="373.84" y="35.47" textLength="7.10" lengthAdjust="spacingAndGlyphs" font-size="12.74">o</text><text x="381.40" y="35.47" textLength="2.73" lengthAdjust="spacingAndGlyphs" font-size="12.83">l</text><text x="384.54" y="35.47" textLength="7.26" lengthAdjust="spacingAndGlyphs" font-size="12.83">d</text><text x="396.16" y="35.47" textLength="7.27" lengthAdjust="spacingAndGlyphs" font-size="12.83">b</text><text x="403.89" y="35.47" textLength="6.45" lengthAdjust="spacingAndGlyphs">y</text><text x="414.83" y="35.47" textLength="6.94" lengthAdjust="spacingAndGlyphs" font-size="12.97">E</text><text x="422.37" y="35.47" textLength="7.27" lengthAdjust="spacingAndGlyphs">p</text><text x="430.09" y="35.47" textLength="2.73" lengthAdjust="spacingAndGlyphs" font-size="12.83">i</text><text x="433.44" y="35.47" textLength="5.76" lengthAdjust="spacingAndGlyphs" font-size="12.77">s</text><text x="439.50" y="35.47" textLength="7.10" lengthAdjust="spacingAndGlyphs" font-size="12.74">o</text><text x="446.87" y="35.47" textLength="7.26" lengthAdjust="spacingAndGlyphs" font-size="12.83">d</text><text x="454.52" y="35.47" textLength="7.21" lengthAdjust="spacingAndGlyphs" font-size="12.74">e</text></g> </g> <g id="legend_1"> <g id="patch_7"> <path d="M 259.26 216.79 L 407.72 216.79 Q 409.72 216.79 409.72 214.79 L 409.72 48.47 Q 409.72 46.47 407.72 46.47 L 259.26 46.47 Q 257.26 46.47 257.26 48.47 L 257.26 214.79 Q 257.26 216.79 259.26 216.79 z " style="fill: #ffffff; opacity: 0.8; stroke: #cccccc; stroke-linejoin: miter"/> </g> <g id="line2d_20"> <path d="M 261.26 54.89 L 271.26 54.89 L 281.26 54.89 " style="fill: none; stroke: #1f77b4; stroke-width: 0.75; stroke-linecap: square"/> </g> <g id="text_11"> <g style="font-size:10.55px;font-family:'Liberation Sans',sans-serif;font-kerning:none" transform="rotate(-0 289.26 58.39)"><text x="289.74" y="58.39" textLength="6.83" lengthAdjust="spacingAndGlyphs" font-size="10.81">R</text><text x="296.05" y="58.39" textLength="5.94" lengthAdjust="spacingAndGlyphs" font-size="10.62">e</text><text x="302.43" y="58.39" textLength="7.22" lengthAdjust="spacingAndGlyphs" font-size="10.56">w</text><text x="310.32" y="58.39" textLength="4.94" lengthAdjust="spacingAndGlyphs" font-size="10.62">a</text><text x="316.21" y="58.39" textLength="4.22" lengthAdjust="spacingAndGlyphs" font-size="10.62">r</text><text x="320.16" y="58.39" textLength="5.97" lengthAdjust="spacingAndGlyphs" font-size="10.69">d</text></g> </g> <g id="line2d_21"> <path d="M 261.26 69.97 L 271.26 69.97 L 281.26 69.97 " style="fill: none; stroke: #ff7f0e; stroke-width: 0.75; stroke-linecap: square"/> </g> <g id="text_12"> <g style="font-size:10.55px;font-family:'Liberation Sans',sans-serif;font-kerning:none" transform="rotate(-0 289.26 73.47)"><text x="289.76" y="73.47" textLength="5.83" lengthAdjust="spacingAndGlyphs" font-size="10.84">S</text><text x="295.86" y="73.47" textLength="4.92" lengthAdjust="spacingAndGlyphs" font-size="10.62">c</text><text x="301.23" y="73.47" textLength="5.80" lengthAdjust="spacingAndGlyphs" font-size="10.62">o</text><text x="307.14" y="73.47" textLength="4.19" lengthAdjust="spacingAndGlyphs" font-size="10.62">r</text><text x="311.02" y="73.47" textLength="5.89" lengthAdjust="spacingAndGlyphs" font-size="10.62">e</text></g> </g> <g id="line2d_22"> <path d="M 261.26 85.05 L 271.26 85.05 L 281.26 85.05 " style="fill: none; stroke: #2ca02c; stroke-width: 0.75; stroke-linecap: square"/> </g> <g id="text_13"> <g style="font-size:10.55px;font-family:'Liberation Sans',sans-serif;font-kerning:none" transform="rotate(-0 289.26 88.55)"><text x="289.74" y="88.55" textLength="6.83" lengthAdjust="spacingAndGlyphs" font-size="10.81">R</text><text x="296.05" y="88.55" textLength="5.94" lengthAdjust="spacingAndGlyphs" font-size="10.62">e</text><text x="302.43" y="88.55" textLength="7.22" lengthAdjust="spacingAndGlyphs" font-size="10.56">w</text><text x="310.32" y="88.55" textLength="4.94" lengthAdjust="spacingAndGlyphs" font-size="10.62">a</text><text x="316.21" y="88.55" textLength="4.22" lengthAdjust="spacingAndGlyphs" font-size="10.62">r</text><text x="320.16" y="88.55" textLength="5.97" lengthAdjust="spacingAndGlyphs" font-size="10.69">d</text></g> </g> <g id="line2d_23"> <path d="M 261.26 100.13 L 271.26 100.13 L 281.26 100.13 " style="fill: none; stroke: #d62728; stroke-width: 0.75; stroke-linecap: square"/> </g> <g id="text_14"> <g style="font-size:10.55px;font-family:'Liberation Sans',sans-serif;font-kerning:none" transform="rotate(-0 289.26 103.63)"><text x="289.76" y="103.63" textLength="5.83" lengthAdjust="spacingAndGlyphs" font-size="10.84">S</text><text x="295.86" y="103.63" textLength="4.92" lengthAdjust="spacingAndGlyphs" font-size="10.62">c</text><text x="301.23" y="103.63" textLength="5.80" lengthAdjust="spacingAndGlyphs" font-size="10.62">o</text><text x="307.14" y="103.63" textLength="4.19" lengthAdjust="spacingAndGlyphs" font-size="10.62">r</text><text x="311.02" y="103.63" textLength="5.89" lengthAdjust="spacingAndGlyphs" font-size="10.62">e</text></g> </g> <g id="line2d_24"> <path d="M 261.26 115.21 L 271.26 115.21 L 281.26 115.21 " style="fill: none; stroke: #9467bd; stroke-width: 0.75; stroke-linecap: square"/> </g> <g id="text_15"> <g style="font-size:10.55px;font-family:'Liberation Sans',sans-serif;font-kerning:none" transform="rotate(-0 289.26 118.71)"><text x="289.69" y="118.71" textLength="7.32" lengthAdjust="spacingAndGlyphs" font-size="10.81">D</text><text x="297.29" y="118.71" textLength="6.77" lengthAdjust="spacingAndGlyphs" font-size="10.81">R</text><text x="303.90" y="118.71" textLength="2.88" lengthAdjust="spacingAndGlyphs" font-size="10.81">I</text><text x="306.97" y="118.71" textLength="6.99" lengthAdjust="spacingAndGlyphs" font-size="10.81">N</text><text x="314.28" y="118.71" textLength="6.59" lengthAdjust="spacingAndGlyphs" font-size="10.81">K</text></g> </g> <g id="line2d_25"> <path d="M 261.26 130.29 L 271.26 130.29 L 281.26 130.29 " style="fill: none; stroke: #8c564b; stroke-width: 0.75; stroke-linecap: square"/> </g> <g id="text_16"> <g style="font-size:10.55px;font-family:'Liberation Sans',sans-serif;font-kerning:none" transform="rotate(-0 289.26 133.79)"><text x="289.68" y="133.79" textLength="7.44" lengthAdjust="spacingAndGlyphs" font-size="10.81">D</text><text x="297.40" y="133.79" textLength="6.88" lengthAdjust="spacingAndGlyphs" font-size="10.81">R</text><text x="304.11" y="133.79" textLength="2.93" lengthAdjust="spacingAndGlyphs" font-size="10.81">I</text><text x="307.23" y="133.79" textLength="7.10" lengthAdjust="spacingAndGlyphs" font-size="10.81">N</text><text x="314.65" y="133.79" textLength="6.70" lengthAdjust="spacingAndGlyphs" font-size="10.81">K</text><text x="321.07" y="133.79" textLength="4.94" lengthAdjust="spacingAndGlyphs">_</text><text x="326.14" y="133.79" textLength="7.44" lengthAdjust="spacingAndGlyphs" font-size="10.81">D</text><text x="333.94" y="133.79" textLength="5.75" lengthAdjust="spacingAndGlyphs" font-size="10.81">E</text><text x="340.27" y="133.79" textLength="5.21" lengthAdjust="spacingAndGlyphs" font-size="10.81">F</text><text x="345.73" y="133.79" textLength="2.93" lengthAdjust="spacingAndGlyphs" font-size="10.81">I</text><text x="348.77" y="133.79" textLength="6.67" lengthAdjust="spacingAndGlyphs" font-size="10.84">C</text><text x="355.63" y="133.79" textLength="2.93" lengthAdjust="spacingAndGlyphs" font-size="10.81">I</text><text x="358.85" y="133.79" textLength="5.75" lengthAdjust="spacingAndGlyphs" font-size="10.81">E</text><text x="365.07" y="133.79" textLength="7.10" lengthAdjust="spacingAndGlyphs" font-size="10.81">N</text><text x="372.42" y="133.79" textLength="6.67" lengthAdjust="spacingAndGlyphs" font-size="10.84">C</text><text x="378.86" y="133.79" textLength="6.55" lengthAdjust="spacingAndGlyphs" font-size="10.81">Y</text></g> </g> <g id="line2d_26"> <path d="M 261.26 145.73 L 271.26 145.73 L 281.26 145.73 " style="fill: none; stroke: #e377c2; stroke-width: 0.75; stroke-linecap: square"/> </g> <g id="text_17"> <g style="font-size:10.55px;font-family:'Liberation Sans',sans-serif;font-kerning:none" transform="rotate(-0 289.26 149.23)"><text x="289.67" y="149.23" textLength="7.45" lengthAdjust="spacingAndGlyphs" font-size="10.81">D</text><text x="297.41" y="149.23" textLength="6.88" lengthAdjust="spacingAndGlyphs" font-size="10.81">R</text><text x="304.12" y="149.23" textLength="2.93" lengthAdjust="spacingAndGlyphs" font-size="10.81">I</text><text x="307.25" y="149.23" textLength="7.11" lengthAdjust="spacingAndGlyphs" font-size="10.81">N</text><text x="314.68" y="149.23" textLength="6.70" lengthAdjust="spacingAndGlyphs" font-size="10.81">K</text><text x="321.11" y="149.23" textLength="4.94" lengthAdjust="spacingAndGlyphs">_</text><text x="326.14" y="149.23" textLength="7.66" lengthAdjust="spacingAndGlyphs" font-size="10.84">O</text><text x="333.71" y="149.23" textLength="6.75" lengthAdjust="spacingAndGlyphs" font-size="10.81">V</text><text x="340.76" y="149.23" textLength="5.76" lengthAdjust="spacingAndGlyphs" font-size="10.81">E</text><text x="347.01" y="149.23" textLength="6.88" lengthAdjust="spacingAndGlyphs" font-size="10.81">R</text><text x="353.97" y="149.23" textLength="5.93" lengthAdjust="spacingAndGlyphs" font-size="10.84">S</text><text x="360.28" y="149.23" textLength="6.70" lengthAdjust="spacingAndGlyphs" font-size="10.81">A</text><text x="366.00" y="149.23" textLength="6.64" lengthAdjust="spacingAndGlyphs" font-size="10.81">T</text><text x="372.34" y="149.23" textLength="2.93" lengthAdjust="spacingAndGlyphs" font-size="10.81">I</text><text x="375.35" y="149.23" textLength="6.70" lengthAdjust="spacingAndGlyphs" font-size="10.81">A</text><text x="381.07" y="149.23" textLength="6.64" lengthAdjust="spacingAndGlyphs" font-size="10.81">T</text><text x="387.40" y="149.23" textLength="2.93" lengthAdjust="spacingAndGlyphs" font-size="10.81">I</text><text x="390.45" y="149.23" textLength="7.66" lengthAdjust="spacingAndGlyphs" font-size="10.84">O</text><text x="398.33" y="149.23" textLength="7.11" lengthAdjust="spacingAndGlyphs" font-size="10.81">N</text></g> </g> <g id="line2d_27"> <path d="M 261.26 161.17 L 271.26 161.17 L 281.26 161.17 " style="fill: none; stroke: #7f7f7f; stroke-width: 0.75; stroke-linecap: square"/> </g> <g id="text_18"> <g style="font-size:10.55px;font-family:'Liberation Sans',sans-serif;font-kerning:none" transform="rotate(-0 289.26 164.67)"><text x="289.83" y="164.67" textLength="5.13" lengthAdjust="spacingAndGlyphs" font-size="10.81">F</text><text x="295.29" y="164.67" textLength="7.54" lengthAdjust="spacingAndGlyphs" font-size="10.84">O</text><text x="302.97" y="164.67" textLength="7.54" lengthAdjust="spacingAndGlyphs" font-size="10.84">O</text><text x="310.68" y="164.67" textLength="7.32" lengthAdjust="spacingAndGlyphs" font-size="10.81">D</text></g> </g> <g id="line2d_28"> <path d="M 261.26 176.25 L 271.26 176.25 L 281.26 176.25 " style="fill: none; stroke: #bcbd22; stroke-width: 0.75; stroke-linecap: square"/> </g> <g id="text_19"> <g style="font-size:10.55px;font-family:'Liberation Sans',sans-serif;font-kerning:none" transform="rotate(-0 289.26 179.75)"><text x="289.82" y="179.75" textLength="5.21" lengthAdjust="spacingAndGlyphs" font-size="10.81">F</text><text x="295.37" y="179.75" textLength="7.65" lengthAdjust="spacingAndGlyphs" font-size="10.84">O</text><text x="303.16" y="179.75" textLength="7.65" lengthAdjust="spacingAndGlyphs" font-size="10.84">O</text><text x="311.00" y="179.75" textLength="7.44" lengthAdjust="spacingAndGlyphs" font-size="10.81">D</text><text x="318.56" y="179.75" textLength="4.94" lengthAdjust="spacingAndGlyphs">_</text><text x="323.63" y="179.75" textLength="7.44" lengthAdjust="spacingAndGlyphs" font-size="10.81">D</text><text x="331.43" y="179.75" textLength="5.75" lengthAdjust="spacingAndGlyphs" font-size="10.81">E</text><text x="337.75" y="179.75" textLength="5.21" lengthAdjust="spacingAndGlyphs" font-size="10.81">F</text><text x="343.21" y="179.75" textLength="2.92" lengthAdjust="spacingAndGlyphs" font-size="10.81">I</text><text x="346.25" y="179.75" textLength="6.67" lengthAdjust="spacingAndGlyphs" font-size="10.84">C</text><text x="353.11" y="179.75" textLength="2.92" lengthAdjust="spacingAndGlyphs" font-size="10.81">I</text><text x="356.33" y="179.75" textLength="5.75" lengthAdjust="spacingAndGlyphs" font-size="10.81">E</text><text x="362.55" y="179.75" textLength="7.10" lengthAdjust="spacingAndGlyphs" font-size="10.81">N</text><text x="369.91" y="179.75" textLength="6.67" lengthAdjust="spacingAndGlyphs" font-size="10.84">C</text><text x="376.34" y="179.75" textLength="6.55" lengthAdjust="spacingAndGlyphs" font-size="10.81">Y</text></g> </g> <g id="line2d_29"> <path d="M 261.26 191.69 L 271.26 191.69 L 281.26 191.69 " style="fill: none; stroke: #17becf; stroke-width: 0.75; stroke-linecap: square"/> </g> <g id="text_20"> <g style="font-size:10.55px;font-family:'Liberation Sans',sans-serif;font-kerning:none" transform="rotate(-0 289.26 195.19)"><text x="289.82" y="195.19" textLength="5.22" lengthAdjust="spacingAndGlyphs" font-size="10.81">F</text><text x="295.38" y="195.19" textLength="7.66" lengthAdjust="spacingAndGlyphs" font-size="10.84">O</text><text x="303.18" y="195.19" textLength="7.66" lengthAdjust="spacingAndGlyphs" font-size="10.84">O</text><text x="311.02" y="195.19" textLength="7.45" lengthAdjust="spacingAndGlyphs" font-size="10.81">D</text><text x="318.59" y="195.19" textLength="4.94" lengthAdjust="spacingAndGlyphs">_</text><text x="323.63" y="195.19" textLength="7.66" lengthAdjust="spacingAndGlyphs" font-size="10.84">O</text><text x="331.19" y="195.19" textLength="6.75" lengthAdjust="spacingAndGlyphs" font-size="10.81">V</text><text x="338.24" y="195.19" textLength="5.76" lengthAdjust="spacingAndGlyphs" font-size="10.81">E</text><text x="344.49" y="195.19" textLength="6.88" lengthAdjust="spacingAndGlyphs" font-size="10.81">R</text><text x="351.46" y="195.19" textLength="5.93" lengthAdjust="spacingAndGlyphs" font-size="10.84">S</text><text x="357.76" y="195.19" textLength="6.70" lengthAdjust="spacingAndGlyphs" font-size="10.81">A</text><text x="363.49" y="195.19" textLength="6.64" lengthAdjust="spacingAndGlyphs" font-size="10.81">T</text><text x="369.82" y="195.19" textLength="2.93" lengthAdjust="spacingAndGlyphs" font-size="10.81">I</text><text x="372.83" y="195.19" textLength="6.70" lengthAdjust="spacingAndGlyphs" font-size="10.81">A</text><text x="378.55" y="195.19" textLength="6.64" lengthAdjust="spacingAndGlyphs" font-size="10.81">T</text><text x="384.89" y="195.19" textLength="2.93" lengthAdjust="spacingAndGlyphs" font-size="10.81">I</text><text x="387.93" y="195.19" textLength="7.66" lengthAdjust="spacingAndGlyphs" font-size="10.84">O</text><text x="395.81" y="195.19" textLength="7.11" lengthAdjust="spacingAndGlyphs" font-size="10.81">N</text></g> </g> <g id="line2d_30"> <path d="M 261.26 207.13 L 271.26 207.13 L 281.26 207.13 " style="fill: none; stroke: #1f77b4; stroke-width: 0.75; stroke-linecap: square"/> </g> <g id="text_21"> <g style="font-size:10.55px;font-family:'Liberation Sans',sans-serif;font-kerning:none" transform="rotate(-0 289.26 210.63)"><text x="289.68" y="210.63" textLength="7.41" lengthAdjust="spacingAndGlyphs" font-size="10.84">G</text><text x="297.22" y="210.63" textLength="7.51" lengthAdjust="spacingAndGlyphs" font-size="10.84">O</text><text x="304.90" y="210.63" textLength="5.59" lengthAdjust="spacingAndGlyphs" font-size="10.81">L</text><text x="310.35" y="210.63" textLength="7.30" lengthAdjust="spacingAndGlyphs" font-size="10.81">D</text></g> </g> </g> </g> <g id="axes_2"> <g id="patch_8"> <path d="M 57.6 213.66 L 414.72 213.66 L 414.72 135.39 L 57.6 135.39 z " style="fill: #ffffff"/> </g> <g id="matplotlib.axis_3"> <g id="xtick_7"> <g id="line2d_31"> <g> <use href="#m082732734f" x="106.29" y="213.66" style="stroke: #000000; stroke-width: 0.8"/> </g> </g> <g id="text_22"> <g style="font-size:10.55px;font-family:'Liberation Sans',sans-serif;font-kerning:none" transform="rotate(-0 106.29 228.58)"><text x="91.52" y="228.58" textLength="7.54" lengthAdjust="spacingAndGlyphs" font-size="9.83">−</text><text x="99.74" y="228.58" textLength="5.88" lengthAdjust="spacingAndGlyphs" font-size="10.84">0</text><text x="105.98" y="228.58" textLength="3.01" lengthAdjust="spacingAndGlyphs">.</text><text x="109.35" y="228.58" textLength="5.88" lengthAdjust="spacingAndGlyphs" font-size="10.84">0</text><text x="115.75" y="228.58" textLength="5.88" lengthAdjust="spacingAndGlyphs" font-size="10.81">4</text></g> </g> </g> <g id="xtick_8"> <g id="line2d_32"> <g> <use href="#m082732734f" x="171.22" y="213.66" style="stroke: #000000; stroke-width: 0.8"/> </g> </g> <g id="text_23"> <g style="font-size:10.55px;font-family:'Liberation Sans',sans-serif;font-kerning:none" transform="rotate(-0 171.22 228.58)"><text x="156.32" y="228.58" textLength="7.56" lengthAdjust="spacingAndGlyphs" font-size="9.83">−</text><text x="164.56" y="228.58" textLength="5.89" lengthAdjust="spacingAndGlyphs" font-size="10.84">0</text><text x="170.82" y="228.58" textLength="3.02" lengthAdjust="spacingAndGlyphs">.</text><text x="174.19" y="228.58" textLength="5.89" lengthAdjust="spacingAndGlyphs" font-size="10.84">0</text><text x="180.59" y="228.58" textLength="5.68" lengthAdjust="spacingAndGlyphs" font-size="10.84">2</text></g> </g> </g> <g id="xtick_9"> <g id="line2d_33"> <g> <use href="#m082732734f" x="236.16" y="213.66" style="stroke: #000000; stroke-width: 0.8"/> </g> </g> <g id="text_24"> <g style="font-size:10.55px;font-family:'Liberation Sans',sans-serif;font-kerning:none" transform="rotate(-0 236.16 228.58)"><text x="225.68" y="228.58" textLength="5.72" lengthAdjust="spacingAndGlyphs" font-size="10.84">0</text><text x="231.76" y="228.58" textLength="2.94" lengthAdjust="spacingAndGlyphs">.</text><text x="235.04" y="228.58" textLength="5.72" lengthAdjust="spacingAndGlyphs" font-size="10.84">0</text><text x="241.28" y="228.58" textLength="5.72" lengthAdjust="spacingAndGlyphs" font-size="10.84">0</text></g> </g> </g> <g id="xtick_10"> <g id="line2d_34"> <g> <use href="#m082732734f" x="301.09" y="213.66" style="stroke: #000000; stroke-width: 0.8"/> </g> </g> <g id="text_25"> <g style="font-size:10.55px;font-family:'Liberation Sans',sans-serif;font-kerning:none" transform="rotate(-0 301.09 228.58)"><text x="290.48" y="228.58" textLength="5.72" lengthAdjust="spacingAndGlyphs" font-size="10.84">0</text><text x="296.55" y="228.58" textLength="2.93" lengthAdjust="spacingAndGlyphs">.</text><text x="299.82" y="228.58" textLength="5.72" lengthAdjust="spacingAndGlyphs" font-size="10.84">0</text><text x="306.03" y="228.58" textLength="5.51" lengthAdjust="spacingAndGlyphs" font-size="10.84">2</text></g> </g> </g> <g id="xtick_11"> <g id="line2d_35"> <g> <use href="#m082732734f" x="366.02" y="213.66" style="stroke: #000000; stroke-width: 0.8"/> </g> </g> <g id="text_26"> <g style="font-size:10.55px;font-family:'Liberation Sans',sans-serif;font-kerning:none" transform="rotate(-0 366.02 228.58)"><text x="355.63" y="228.58" textLength="5.80" lengthAdjust="spacingAndGlyphs" font-size="10.84">0</text><text x="361.79" y="228.58" textLength="2.97" lengthAdjust="spacingAndGlyphs">.</text><text x="365.11" y="228.58" textLength="5.80" lengthAdjust="spacingAndGlyphs" font-size="10.84">0</text><text x="371.43" y="228.58" textLength="5.80" lengthAdjust="spacingAndGlyphs" font-size="10.81">4</text></g> </g> </g> </g> <g id="matplotlib.axis_4"> <g id="ytick_3"> <g id="line2d_36"> <g> <use href="#mf66d849884" x="57.6" y="210.10" style="stroke: #000000; stroke-width: 0.8"/> </g> </g> <g id="text_27"> <g style="font-size:10.55px;font-family:'Liberation Sans',sans-serif;font-kerning:none" transform="rotate(-0 50.6 214.06)"><text x="20.24" y="214.06" textLength="7.53" lengthAdjust="spacingAndGlyphs" font-size="9.83">−</text><text x="28.44" y="214.06" textLength="5.87" lengthAdjust="spacingAndGlyphs" font-size="10.84">0</text><text x="34.67" y="214.06" textLength="3.01" lengthAdjust="spacingAndGlyphs">.</text><text x="38.04" y="214.06" textLength="5.87" lengthAdjust="spacingAndGlyphs" font-size="10.84">0</text><text x="44.56" y="214.06" textLength="5.54" lengthAdjust="spacingAndGlyphs" font-size="10.81">5</text></g> </g> </g> <g id="ytick_4"> <g id="line2d_37"> <g> <use href="#mf66d849884" x="57.6" y="174.52" style="stroke: #000000; stroke-width: 0.8"/> </g> </g> <g id="text_28"> <g style="font-size:10.55px;font-family:'Liberation Sans',sans-serif;font-kerning:none" transform="rotate(-0 50.6 178.48)"><text x="28.76" y="178.49" textLength="5.72" lengthAdjust="spacingAndGlyphs" font-size="10.84">0</text><text x="34.84" y="178.49" textLength="2.94" lengthAdjust="spacingAndGlyphs">.</text><text x="38.12" y="178.49" textLength="5.72" lengthAdjust="spacingAndGlyphs" font-size="10.84">0</text><text x="44.36" y="178.49" textLength="5.72" lengthAdjust="spacingAndGlyphs" font-size="10.84">0</text></g> </g> </g> <g id="ytick_5"> <g id="line2d_38"> <g> <use href="#mf66d849884" x="57.6" y="138.95" style="stroke: #000000; stroke-width: 0.8"/> </g> </g> <g id="text_29"> <g style="font-size:10.55px;font-family:'Liberation Sans',sans-serif;font-kerning:none" transform="rotate(-0 50.6 142.91)"><text x="28.75" y="142.91" textLength="5.78" lengthAdjust="spacingAndGlyphs" font-size="10.84">0</text><text x="34.89" y="142.91" textLength="2.97" lengthAdjust="spacingAndGlyphs">.</text><text x="38.21" y="142.91" textLength="5.78" lengthAdjust="spacingAndGlyphs" font-size="10.84">0</text><text x="44.63" y="142.91" textLength="5.46" lengthAdjust="spacingAndGlyphs" font-size="10.81">5</text></g> </g> </g> <g id="text_30"> <g style="font-size:10.55px;font-family:'Liberation Sans',sans-serif;font-kerning:none" transform="rotate(-90 13.75 174.52)"><text x="-20.26" y="174.53" textLength="8.28" lengthAdjust="spacingAndGlyphs" font-size="10.81">M</text><text x="-11.72" y="174.53" textLength="5.99" lengthAdjust="spacingAndGlyphs" font-size="10.62">e</text><text x="-5.49" y="174.53" textLength="4.98" lengthAdjust="spacingAndGlyphs" font-size="10.62">a</text><text x="0.58" y="174.53" textLength="5.98" lengthAdjust="spacingAndGlyphs" font-size="10.62">n</text><text x="10.09" y="174.53" textLength="6.88" lengthAdjust="spacingAndGlyphs" font-size="10.81">R</text><text x="16.44" y="174.53" textLength="5.99" lengthAdjust="spacingAndGlyphs" font-size="10.62">e</text><text x="22.88" y="174.53" textLength="7.27" lengthAdjust="spacingAndGlyphs" font-size="10.56">w</text><text x="30.83" y="174.53" textLength="4.98" lengthAdjust="spacingAndGlyphs" font-size="10.62">a</text><text x="36.77" y="174.53" textLength="4.25" lengthAdjust="spacingAndGlyphs" font-size="10.62">r</text><text x="40.75" y="174.53" textLength="6.02" lengthAdjust="spacingAndGlyphs" font-size="10.69">d</text></g> </g> </g> <g id="line2d_39"/> <g id="line2d_40"/> <g id="line2d_41"/> <g id="line2d_42"/> <g id="line2d_43"/> <g id="line2d_44"/> <g id="line2d_45"/> <g id="line2d_46"/> <g id="line2d_47"/> <g id="line2d_48"/> <g id="line2d_49"/> <g id="patch_9"> <path d="M 57.6 213.66 L 57.6 135.39 " style="fill: none; stroke: #000000; stroke-width: 0.8; stroke-linejoin: miter; stroke-linecap: square"/> </g> <g id="patch_10"> <path d="M 414.72 213.66 L 414.72 135.39 " style="fill: none; stroke: #000000; stroke-width: 0.8; stroke-linejoin: miter; stroke-linecap: square"/> </g> <g id="patch_11"> <path d="M 57.6 213.66 L 414.72 213.66 " style="fill: none; stroke: #000000; stroke-width: 0.8; stroke-linejoin: miter; stroke-linecap: square"/> </g> <g id="patch_12"> <path d="M 57.6 135.39 L 414.72 135.39 " style="fill: none; stroke: #000000; stroke-width: 0.8; stroke-linejoin: miter; stroke-linecap: square"/> </g> <g id="text_31"> <g style="font-size:12.66px;font-family:'Liberation Sans',sans-serif;font-kerning:none" transform="rotate(-0 236.16 129.39)"><text x="4.43" y="129.39" textLength="6.78" lengthAdjust="spacingAndGlyphs" font-size="13.01">2</text><text x="12.16" y="129.39" textLength="7.04" lengthAdjust="spacingAndGlyphs" font-size="13.01">0</text><text x="19.78" y="129.39" textLength="6.78" lengthAdjust="spacingAndGlyphs" font-size="13.01">2</text><text x="27.66" y="129.39" textLength="6.64" lengthAdjust="spacingAndGlyphs" font-size="12.97">5</text><text x="35.17" y="129.39" textLength="7.04" lengthAdjust="spacingAndGlyphs" font-size="13.01">0</text><text x="42.87" y="129.39" textLength="6.89" lengthAdjust="spacingAndGlyphs" font-size="12.97">7</text><text x="50.44" y="129.39" textLength="6.78" lengthAdjust="spacingAndGlyphs" font-size="13.01">2</text><text x="58.14" y="129.39" textLength="6.78" lengthAdjust="spacingAndGlyphs" font-size="13.01">2</text><text x="65.97" y="129.39" textLength="6.72" lengthAdjust="spacingAndGlyphs" font-size="12.97">1</text><text x="73.37" y="129.39" textLength="7.27" lengthAdjust="spacingAndGlyphs" font-size="13.01">9</text><text x="81.18" y="129.39" textLength="7.04" lengthAdjust="spacingAndGlyphs" font-size="13.01">0</text><text x="88.99" y="129.39" textLength="6.76" lengthAdjust="spacingAndGlyphs" font-size="13.01">3</text><text x="96.64" y="129.39" textLength="6.64" lengthAdjust="spacingAndGlyphs" font-size="12.97">5</text><text x="104.11" y="129.39" textLength="6.78" lengthAdjust="spacingAndGlyphs" font-size="13.01">2</text><text x="115.59" y="129.39" textLength="3.61" lengthAdjust="spacingAndGlyphs" font-size="11.98">:</text><text x="123.32" y="129.39" textLength="5.12" lengthAdjust="spacingAndGlyphs" font-size="12.74">r</text><text x="128.47" y="129.39" textLength="6.00" lengthAdjust="spacingAndGlyphs" font-size="12.74">a</text><text x="135.78" y="129.39" textLength="7.20" lengthAdjust="spacingAndGlyphs" font-size="12.74">n</text><text x="143.27" y="129.39" textLength="7.26" lengthAdjust="spacingAndGlyphs" font-size="12.83">d</text><text x="150.94" y="129.39" textLength="7.10" lengthAdjust="spacingAndGlyphs" font-size="12.74">o</text><text x="158.38" y="129.39" textLength="11.40" lengthAdjust="spacingAndGlyphs" font-size="12.74">m</text><text x="173.99" y="129.39" textLength="3.61" lengthAdjust="spacingAndGlyphs" font-size="11.98">:</text><text x="181.76" y="129.39" textLength="7.21" lengthAdjust="spacingAndGlyphs" font-size="12.74">e</text><text x="189.08" y="129.39" textLength="5.96" lengthAdjust="spacingAndGlyphs">_</text><text x="195.46" y="129.39" textLength="6.89" lengthAdjust="spacingAndGlyphs" font-size="12.97">7</text><text x="202.81" y="129.39" textLength="5.96" lengthAdjust="spacingAndGlyphs">_</text><text x="208.90" y="129.39" textLength="4.38" lengthAdjust="spacingAndGlyphs" font-size="12.85">f</text><text x="213.21" y="129.39" textLength="7.10" lengthAdjust="spacingAndGlyphs" font-size="12.74">o</text><text x="220.59" y="129.39" textLength="7.10" lengthAdjust="spacingAndGlyphs" font-size="12.74">o</text><text x="227.96" y="129.39" textLength="7.26" lengthAdjust="spacingAndGlyphs" font-size="12.83">d</text><text x="235.55" y="129.39" textLength="5.96" lengthAdjust="spacingAndGlyphs">_</text><text x="241.70" y="129.39" textLength="7.26" lengthAdjust="spacingAndGlyphs" font-size="12.83">d</text><text x="249.30" y="129.39" textLength="5.12" lengthAdjust="spacingAndGlyphs" font-size="12.74">r</text><text x="254.50" y="129.39" textLength="2.73" lengthAdjust="spacingAndGlyphs" font-size="12.83">i</text><text x="257.75" y="129.39" textLength="7.20" lengthAdjust="spacingAndGlyphs" font-size="12.74">n</text><text x="265.31" y="129.39" textLength="6.71" lengthAdjust="spacingAndGlyphs" font-size="12.83">k</text><text x="272.11" y="129.39" textLength="5.96" lengthAdjust="spacingAndGlyphs">_</text><text x="278.33" y="129.39" textLength="7.25" lengthAdjust="spacingAndGlyphs" font-size="12.83">h</text><text x="285.88" y="129.39" textLength="7.10" lengthAdjust="spacingAndGlyphs" font-size="12.74">o</text><text x="293.32" y="129.39" textLength="11.40" lengthAdjust="spacingAndGlyphs" font-size="12.74">m</text><text x="305.00" y="129.39" textLength="7.21" lengthAdjust="spacingAndGlyphs" font-size="12.74">e</text><text x="312.40" y="129.39" textLength="7.10" lengthAdjust="spacingAndGlyphs" font-size="12.74">o</text><text x="319.99" y="129.39" textLength="5.75" lengthAdjust="spacingAndGlyphs" font-size="12.77">s</text><text x="325.99" y="129.39" textLength="4.46" lengthAdjust="spacingAndGlyphs" font-size="13.29">t</text><text x="330.86" y="129.39" textLength="6.00" lengthAdjust="spacingAndGlyphs" font-size="12.74">a</text><text x="338.27" y="129.39" textLength="5.75" lengthAdjust="spacingAndGlyphs" font-size="12.77">s</text><text x="344.50" y="129.39" textLength="2.73" lengthAdjust="spacingAndGlyphs" font-size="12.83">i</text><text x="347.86" y="129.39" textLength="5.75" lengthAdjust="spacingAndGlyphs" font-size="12.77">s</text><text x="353.83" y="129.39" textLength="5.96" lengthAdjust="spacingAndGlyphs">_</text><text x="359.98" y="129.39" textLength="7.26" lengthAdjust="spacingAndGlyphs">g</text><text x="367.64" y="129.39" textLength="7.10" lengthAdjust="spacingAndGlyphs" font-size="12.74">o</text><text x="375.21" y="129.39" textLength="2.73" lengthAdjust="spacingAndGlyphs" font-size="12.83">l</text><text x="378.35" y="129.39" textLength="7.26" lengthAdjust="spacingAndGlyphs" font-size="12.83">d</text><text x="389.96" y="129.39" textLength="7.26" lengthAdjust="spacingAndGlyphs" font-size="12.83">b</text><text x="397.70" y="129.39" textLength="6.45" lengthAdjust="spacingAndGlyphs">y</text><text x="407.98" y="129.39" textLength="8.00" lengthAdjust="spacingAndGlyphs" font-size="12.97">T</text><text x="413.96" y="129.39" textLength="5.12" lengthAdjust="spacingAndGlyphs" font-size="12.74">r</text><text x="419.11" y="129.39" textLength="6.00" lengthAdjust="spacingAndGlyphs" font-size="12.74">a</text><text x="426.50" y="129.39" textLength="2.73" lengthAdjust="spacingAndGlyphs" font-size="12.83">i</text><text x="429.75" y="129.39" textLength="7.20" lengthAdjust="spacingAndGlyphs" font-size="12.74">n</text><text x="441.26" y="129.39" textLength="7.14" lengthAdjust="spacingAndGlyphs" font-size="13.01">S</text><text x="448.69" y="129.39" textLength="4.46" lengthAdjust="spacingAndGlyphs" font-size="13.29">t</text><text x="453.40" y="129.39" textLength="7.21" lengthAdjust="spacingAndGlyphs" font-size="12.74">e</text><text x="460.92" y="129.39" textLength="7.26" lengthAdjust="spacingAndGlyphs">p</text></g> </g> <g id="legend_2"> <g id="patch_13"> <path d="M 259.26 310.71 L 407.72 310.71 Q 409.72 310.71 409.72 308.71 L 409.72 142.39 Q 409.72 140.39 407.72 140.39 L 259.26 140.39 Q 257.26 140.39 257.26 142.39 L 257.26 308.71 Q 257.26 310.71 259.26 310.71 z " style="fill: #ffffff; opacity: 0.8; stroke: #cccccc; stroke-linejoin: miter"/> </g> <g id="line2d_50"> <path d="M 261.26 148.81 L 271.26 148.81 L 281.26 148.81 " style="fill: none; stroke: #1f77b4; stroke-width: 0.75; stroke-linecap: square"/> </g> <g id="text_32"> <g style="font-size:10.55px;font-family:'Liberation Sans',sans-serif;font-kerning:none" transform="rotate(-0 289.26 152.31)"><text x="289.74" y="152.31" textLength="6.83" lengthAdjust="spacingAndGlyphs" font-size="10.81">R</text><text x="296.05" y="152.31" textLength="5.94" lengthAdjust="spacingAndGlyphs" font-size="10.62">e</text><text x="302.43" y="152.31" textLength="7.22" lengthAdjust="spacingAndGlyphs" font-size="10.56">w</text><text x="310.32" y="152.31" textLength="4.94" lengthAdjust="spacingAndGlyphs" font-size="10.62">a</text><text x="316.21" y="152.31" textLength="4.22" lengthAdjust="spacingAndGlyphs" font-size="10.62">r</text><text x="320.16" y="152.31" textLength="5.97" lengthAdjust="spacingAndGlyphs" font-size="10.69">d</text></g> </g> <g id="line2d_51"> <path d="M 261.26 163.89 L 271.26 163.89 L 281.26 163.89 " style="fill: none; stroke: #ff7f0e; stroke-width: 0.75; stroke-linecap: square"/> </g> <g id="text_33"> <g style="font-size:10.55px;font-family:'Liberation Sans',sans-serif;font-kerning:none" transform="rotate(-0 289.26 167.39)"><text x="289.76" y="167.39" textLength="5.83" lengthAdjust="spacingAndGlyphs" font-size="10.84">S</text><text x="295.86" y="167.39" textLength="4.92" lengthAdjust="spacingAndGlyphs" font-size="10.62">c</text><text x="301.23" y="167.39" textLength="5.80" lengthAdjust="spacingAndGlyphs" font-size="10.62">o</text><text x="307.14" y="167.39" textLength="4.19" lengthAdjust="spacingAndGlyphs" font-size="10.62">r</text><text x="311.02" y="167.39" textLength="5.89" lengthAdjust="spacingAndGlyphs" font-size="10.62">e</text></g> </g> <g id="line2d_52"> <path d="M 261.26 178.97 L 271.26 178.97 L 281.26 178.97 " style="fill: none; stroke: #2ca02c; stroke-width: 0.75; stroke-linecap: square"/> </g> <g id="text_34"> <g style="font-size:10.55px;font-family:'Liberation Sans',sans-serif;font-kerning:none" transform="rotate(-0 289.26 182.47)"><text x="289.74" y="182.47" textLength="6.83" lengthAdjust="spacingAndGlyphs" font-size="10.81">R</text><text x="296.05" y="182.47" textLength="5.94" lengthAdjust="spacingAndGlyphs" font-size="10.62">e</text><text x="302.43" y="182.47" textLength="7.22" lengthAdjust="spacingAndGlyphs" font-size="10.56">w</text><text x="310.32" y="182.47" textLength="4.94" lengthAdjust="spacingAndGlyphs" font-size="10.62">a</text><text x="316.21" y="182.47" textLength="4.22" lengthAdjust="spacingAndGlyphs" font-size="10.62">r</text><text x="320.16" y="182.47" textLength="5.97" lengthAdjust="spacingAndGlyphs" font-size="10.69">d</text></g> </g> <g id="line2d_53"> <path d="M 261.26 194.05 L 271.26 194.05 L 281.26 194.05 " style="fill: none; stroke: #d62728; stroke-width: 0.75; stroke-linecap: square"/> </g> <g id="text_35"> <g style="font-size:10.55px;font-family:'Liberation Sans',sans-serif;font-kerning:none" transform="rotate(-0 289.26 197.55)"><text x="289.76" y="197.55" textLength="5.83" lengthAdjust="spacingAndGlyphs" font-size="10.84">S</text><text x="295.86" y="197.55" textLength="4.92" lengthAdjust="spacingAndGlyphs" font-size="10.62">c</text><text x="301.23" y="197.55" textLength="5.80" lengthAdjust="spacingAndGlyphs" font-size="10.62">o</text><text x="307.14" y="197.55" textLength="4.19" lengthAdjust="spacingAndGlyphs" font-size="10.62">r</text><text x="311.02" y="197.55" textLength="5.89" lengthAdjust="spacingAndGlyphs" font-size="10.62">e</text></g> </g> <g id="line2d_54"> <path d="M 261.26 209.13 L 271.26 209.13 L 281.26 209.13 " style="fill: none; stroke: #9467bd; stroke-width: 0.75; stroke-linecap: square"/> </g> <g id="text_36"> <g style="font-size:10.55px;font-family:'Liberation Sans',sans-serif;font-kerning:none" transform="rotate(-0 289.26 212.63)"><text x="289.69" y="212.63" textLength="7.32" lengthAdjust="spacingAndGlyphs" font-size="10.81">D</text><text x="297.29" y="212.63" textLength="6.77" lengthAdjust="spacingAndGlyphs" font-size="10.81">R</text><text x="303.90" y="212.63" textLength="2.88" lengthAdjust="spacingAndGlyphs" font-size="10.81">I</text><text x="306.97" y="212.63" textLength="6.99" lengthAdjust="spacingAndGlyphs" font-size="10.81">N</text><text x="314.28" y="212.63" textLength="6.59" lengthAdjust="spacingAndGlyphs" font-size="10.81">K</text></g> </g> <g id="line2d_55"> <path d="M 261.26 224.21 L 271.26 224.21 L 281.26 224.21 " style="fill: none; stroke: #8c564b; stroke-width: 0.75; stroke-linecap: square"/> </g> <g id="text_37"> <g style="font-size:10.55px;font-family:'Liberation Sans',sans-serif;font-kerning:none" transform="rotate(-0 289.26 227.71)"><text x="289.68" y="227.71" textLength="7.44" lengthAdjust="spacingAndGlyphs" font-size="10.81">D</text><text x="297.40" y="227.71" textLength="6.88" lengthAdjust="spacingAndGlyphs" font-size="10.81">R</text><text x="304.11" y="227.71" textLength="2.93" lengthAdjust="spacingAndGlyphs" font-size="10.81">I</text><text x="307.23" y="227.71" textLength="7.10" lengthAdjust="spacingAndGlyphs" font-size="10.81">N</text><text x="314.65" y="227.71" textLength="6.70" lengthAdjust="spacingAndGlyphs" font-size="10.81">K</text><text x="321.07" y="227.71" textLength="4.94" lengthAdjust="spacingAndGlyphs">_</text><text x="326.14" y="227.71" textLength="7.44" lengthAdjust="spacingAndGlyphs" font-size="10.81">D</text><text x="333.94" y="227.71" textLength="5.75" lengthAdjust="spacingAndGlyphs" font-size="10.81">E</text><text x="340.27" y="227.71" textLength="5.21" lengthAdjust="spacingAndGlyphs" font-size="10.81">F</text><text x="345.73" y="227.71" textLength="2.93" lengthAdjust="spacingAndGlyphs" font-size="10.81">I</text><text x="348.77" y="227.71" textLength="6.67" lengthAdjust="spacingAndGlyphs" font-size="10.84">C</text><text x="355.63" y="227.71" textLength="2.93" lengthAdjust="spacingAndGlyphs" font-size="10.81">I</text><text x="358.85" y="227.71" textLength="5.75" lengthAdjust="spacingAndGlyphs" font-size="10.81">E</text><text x="365.07" y="227.71" textLength="7.10" lengthAdjust="spacingAndGlyphs" font-size="10.81">N</text><text x="372.42" y="227.71" textLength="6.67" lengthAdjust="spacingAndGlyphs" font-size="10.84">C</text><text x="378.86" y="227.71" textLength="6.55" lengthAdjust="spacingAndGlyphs" font-size="10.81">Y</text></g> </g> <g id="line2d_56"> <path d="M 261.26 239.65 L 271.26 239.65 L 281.26 239.65 " style="fill: none; stroke: #e377c2; stroke-width: 0.75; stroke-linecap: square"/> </g> <g id="text_38"> <g style="font-size:10.55px;font-family:'Liberation Sans',sans-serif;font-kerning:none" transform="rotate(-0 289.26 243.15)"><text x="289.67" y="243.15" textLength="7.45" lengthAdjust="spacingAndGlyphs" font-size="10.81">D</text><text x="297.41" y="243.15" textLength="6.88" lengthAdjust="spacingAndGlyphs" font-size="10.81">R</text><text x="304.12" y="243.15" textLength="2.93" lengthAdjust="spacingAndGlyphs" font-size="10.81">I</text><text x="307.25" y="243.15" textLength="7.11" lengthAdjust="spacingAndGlyphs" font-size="10.81">N</text><text x="314.68" y="243.15" textLength="6.70" lengthAdjust="spacingAndGlyphs" font-size="10.81">K</text><text x="321.11" y="243.15" textLength="4.94" lengthAdjust="spacingAndGlyphs">_</text><text x="326.14" y="243.15" textLength="7.66" lengthAdjust="spacingAndGlyphs" font-size="10.84">O</text><text x="333.71" y="243.15" textLength="6.75" lengthAdjust="spacingAndGlyphs" font-size="10.81">V</text><text x="340.76" y="243.15" textLength="5.76" lengthAdjust="spacingAndGlyphs" font-size="10.81">E</text><text x="347.01" y="243.15" textLength="6.88" lengthAdjust="spacingAndGlyphs" font-size="10.81">R</text><text x="353.97" y="243.15" textLength="5.93" lengthAdjust="spacingAndGlyphs" font-size="10.84">S</text><text x="360.28" y="243.15" textLength="6.70" lengthAdjust="spacingAndGlyphs" font-size="10.81">A</text><text x="366.00" y="243.15" textLength="6.64" lengthAdjust="spacingAndGlyphs" font-size="10.81">T</text><text x="372.34" y="243.15" textLength="2.93" lengthAdjust="spacingAndGlyphs" font-size="10.81">I</text><text x="375.35" y="243.15" textLength="6.70" lengthAdjust="spacingAndGlyphs" font-size="10.81">A</text><text x="381.07" y="243.15" textLength="6.64" lengthAdjust="spacingAndGlyphs" font-size="10.81">T</text><text x="387.40" y="243.15" textLength="2.93" lengthAdjust="spacingAndGlyphs" font-size="10.81">I</text><text x="390.45" y="243.15" textLength="7.66" lengthAdjust="spacingAndGlyphs" font-size="10.84">O</text><text x="398.33" y="243.15" textLength="7.11" lengthAdjust="spacingAndGlyphs" font-size="10.81">N</text></g> </g> <g id="line2d_57"> <path d="M 261.26 255.09 L 271.26 255.09 L 281.26 255.09 " style="fill: none; stroke: #7f7f7f; stroke-width: 0.75; stroke-linecap: square"/> </g> <g id="text_39"> <g style="font-size:10.55px;font-family:'Liberation Sans',sans-serif;font-kerning:none" transform="rotate(-0 289.26 258.59)"><text x="289.83" y="258.59" textLength="5.13" lengthAdjust="spacingAndGlyphs" font-size="10.81">F</text><text x="295.29" y="258.59" textLength="7.54" lengthAdjust="spacingAndGlyphs" font-size="10.84">O</text><text x="302.97" y="258.59" textLength="7.54" lengthAdjust="spacingAndGlyphs" font-size="10.84">O</text><text x="310.68" y="258.59" textLength="7.32" lengthAdjust="spacingAndGlyphs" font-size="10.81">D</text></g> </g> <g id="line2d_58"> <path d="M 261.26 270.17 L 271.26 270.17 L 281.26 270.17 " style="fill: none; stroke: #bcbd22; stroke-width: 0.75; stroke-linecap: square"/> </g> <g id="text_40"> <g style="font-size:10.55px;font-family:'Liberation Sans',sans-serif;font-kerning:none" transform="rotate(-0 289.26 273.67)"><text x="289.82" y="273.67" textLength="5.21" lengthAdjust="spacingAndGlyphs" font-size="10.81">F</text><text x="295.37" y="273.67" textLength="7.65" lengthAdjust="spacingAndGlyphs" font-size="10.84">O</text><text x="303.16" y="273.67" textLength="7.65" lengthAdjust="spacingAndGlyphs" font-size="10.84">O</text><text x="311.00" y="273.67" textLength="7.44" lengthAdjust="spacingAndGlyphs" font-size="10.81">D</text><text x="318.56" y="273.67" textLength="4.94" lengthAdjust="spacingAndGlyphs">_</text><text x="323.63" y="273.67" textLength="7.44" lengthAdjust="spacingAndGlyphs" font-size="10.81">D</text><text x="331.43" y="273.67" textLength="5.75" lengthAdjust="spacingAndGlyphs" font-size="10.81">E</text><text x="337.75" y="273.67" textLength="5.21" lengthAdjust="spacingAndGlyphs" font-size="10.81">F</text><text x="343.21" y="273.67" textLength="2.92" lengthAdjust="spacingAndGlyphs" font-size="10.81">I</text><text x="346.25" y="273.67" textLength="6.67" lengthAdjust="spacingAndGlyphs" font-size="10.84">C</text><text x="353.11" y="273.67" textLength="2.92" lengthAdjust="spacingAndGlyphs" font-size="10.81">I</text><text x="356.33" y="273.67" textLength="5.75" lengthAdjust="spacingAndGlyphs" font-size="10.81">E</text><text x="362.55" y="273.67" textLength="7.10" lengthAdjust="spacingAndGlyphs" font-size="10.81">N</text><text x="369.91" y="273.67" textLength="6.67" lengthAdjust="spacingAndGlyphs" font-size="10.84">C</text><text x="376.34" y="273.67" textLength="6.55" lengthAdjust="spacingAndGlyphs" font-size="10.81">Y</text></g> </g> <g id="line2d_59"> <path d="M 261.26 285.61 L 271.26 285.61 L 281.26 285.61 " style="fill: none; stroke: #17becf; stroke-width: 0.75; stroke-linecap: square"/> </g> <g id="text_41"> <g style="font-size:10.55px;font-family:'Liberation Sans',sans-serif;font-kerning:none" transform="rotate(-0 289.26 289.11)"><text x="289.82" y="289.11" textLength="5.22" lengthAdjust="spacingAndGlyphs" font-size="10.81">F</text><text x="295.38" y="289.11" textLength="7.66" lengthAdjust="spacingAndGlyphs" font-size="10.84">O</text><text x="303.18" y="289.11" textLength="7.66" lengthAdjust="spacingAndGlyphs" font-size="10.84">O</text><text x="311.02" y="289.11" textLength="7.45" lengthAdjust="spacingAndGlyphs" font-size="10.81">D</text><text x="318.59" y="289.11" textLength="4.94" lengthAdjust="spacingAndGlyphs">_</text><text x="323.63" y="289.11" textLength="7.66" lengthAdjust="spacingAndGlyphs" font-size="10.84">O</text><text x="331.19" y="289.11" textLength="6.75" lengthAdjust="spacingAndGlyphs" font-size="10.81">V</text><text x="338.24" y="289.11" textLength="5.76" lengthAdjust="spacingAndGlyphs" font-size="10.81">E</text><text x="344.49" y="289.11" textLength="6.88" lengthAdjust="spacingAndGlyphs" font-size="10.81">R</text><text x="351.46" y="289.11" textLength="5.93" lengthAdjust="spacingAndGlyphs" font-size="10.84">S</text><text x="357.76" y="289.11" textLength="6.70" lengthAdjust="spacingAndGlyphs" font-size="10.81">A</text><text x="363.49" y="289.11" textLength="6.64" lengthAdjust="spacingAndGlyphs" font-size="10.81">T</text><text x="369.82" y="289.11" textLength="2.93" lengthAdjust="spacingAndGlyphs" font-size="10.81">I</text><text x="372.83" y="289.11" textLength="6.70" lengthAdjust="spacingAndGlyphs" font-size="10.81">A</text><text x="378.55" y="289.11" textLength="6.64" lengthAdjust="spacingAndGlyphs" font-size="10.81">T</text><text x="384.89" y="289.11" textLength="2.93" lengthAdjust="spacingAndGlyphs" font-size="10.81">I</text><text x="387.93" y="289.11" textLength="7.66" lengthAdjust="spacingAndGlyphs" font-size="10.84">O</text><text x="395.81" y="289.11" textLength="7.11" lengthAdjust="spacingAndGlyphs" font-size="10.81">N</text></g> </g> <g id="line2d_60"> <path d="M 261.26 301.05 L 271.26 301.05 L 281.26 301.05 " style="fill: none; stroke: #1f77b4; stroke-width: 0.75; stroke-linecap: square"/> </g> <g id="text_42"> <g style="font-size:10.55px;font-family:'Liberation Sans',sans-serif;font-kerning:none" transform="rotate(-0 289.26 304.55)"><text x="289.68" y="304.55" textLength="7.41" lengthAdjust="spacingAndGlyphs" font-size="10.84">G</text><text x="297.22" y="304.55" textLength="7.51" lengthAdjust="spacingAndGlyphs" font-size="10.84">O</text><text x="304.90" y="304.55" textLength="5.59" lengthAdjust="spacingAndGlyphs" font-size="10.81">L</text><text x="310.35" y="304.55" textLength="7.30" lengthAdjust="spacingAndGlyphs" font-size="10.81">D</text></g> </g> </g> </g> <g id="axes_3"> <g id="patch_14"> <path d="M 57.6 307.58 L 414.72 307.58 L 414.72 229.31 L 57.6 229.31 z " style="fill: #ffffff"/> </g> <g id="matplotlib.axis_5"> <g id="xtick_12"> <g id="line2d_61"> <g> <use href="#m082732734f" x="73.83" y="307.58" style="stroke: #000000; stroke-width: 0.8"/> </g> </g> <g id="text_43"> <text x="71.23" y="322.50" textLength="5.86" lengthAdjust="spacingAndGlyphs" style="font-size:10.55px;font-family:'Liberation Sans',sans-serif;font-kerning:none" transform="rotate(-0 73.83 322.50)">0</text> </g> </g> <g id="xtick_13"> <g id="line2d_62"> <g> <use href="#m082732734f" x="114.51" y="307.58" style="stroke: #000000; stroke-width: 0.8"/> </g> </g> <g id="text_44"> <g style="font-size:10.55px;font-family:'Liberation Sans',sans-serif;font-kerning:none" transform="rotate(-0 114.51 322.50)"><text x="108.70" y="322.50" textLength="5.30" lengthAdjust="spacingAndGlyphs" font-size="10.81">5</text><text x="114.66" y="322.50" textLength="5.62" lengthAdjust="spacingAndGlyphs" font-size="10.84">0</text></g> </g> </g> <g id="xtick_14"> <g id="line2d_63"> <g> <use href="#m082732734f" x="155.19" y="307.58" style="stroke: #000000; stroke-width: 0.8"/> </g> </g> <g id="text_45"> <g style="font-size:10.55px;font-family:'Liberation Sans',sans-serif;font-kerning:none" transform="rotate(-0 155.19 322.50)"><text x="146.12" y="322.50" textLength="5.58" lengthAdjust="spacingAndGlyphs" font-size="10.81">1</text><text x="152.36" y="322.50" textLength="5.84" lengthAdjust="spacingAndGlyphs" font-size="10.84">0</text><text x="158.73" y="322.50" textLength="5.84" lengthAdjust="spacingAndGlyphs" font-size="10.84">0</text></g> </g> </g> <g id="xtick_15"> <g id="line2d_64"> <g> <use href="#m082732734f" x="195.88" y="307.58" style="stroke: #000000; stroke-width: 0.8"/> </g> </g> <g id="text_46"> <g style="font-size:10.55px;font-family:'Liberation Sans',sans-serif;font-kerning:none" transform="rotate(-0 195.88 322.50)"><text x="186.79" y="322.50" textLength="5.60" lengthAdjust="spacingAndGlyphs" font-size="10.81">1</text><text x="193.18" y="322.50" textLength="5.53" lengthAdjust="spacingAndGlyphs" font-size="10.81">5</text><text x="199.39" y="322.50" textLength="5.86" lengthAdjust="spacingAndGlyphs" font-size="10.84">0</text></g> </g> </g> <g id="xtick_16"> <g id="line2d_65"> <g> <use href="#m082732734f" x="236.56" y="307.58" style="stroke: #000000; stroke-width: 0.8"/> </g> </g> <g id="text_47"> <g style="font-size:10.55px;font-family:'Liberation Sans',sans-serif;font-kerning:none" transform="rotate(-0 236.56 322.50)"><text x="227.37" y="322.50" textLength="5.63" lengthAdjust="spacingAndGlyphs" font-size="10.84">2</text><text x="233.72" y="322.50" textLength="5.84" lengthAdjust="spacingAndGlyphs" font-size="10.84">0</text><text x="240.09" y="322.50" textLength="5.84" lengthAdjust="spacingAndGlyphs" font-size="10.84">0</text></g> </g> </g> <g id="xtick_17"> <g id="line2d_66"> <g> <use href="#m082732734f" x="277.25" y="307.58" style="stroke: #000000; stroke-width: 0.8"/> </g> </g> <g id="text_48"> <g style="font-size:10.55px;font-family:'Liberation Sans',sans-serif;font-kerning:none" transform="rotate(-0 277.25 322.50)"><text x="268.05" y="322.50" textLength="5.65" lengthAdjust="spacingAndGlyphs" font-size="10.84">2</text><text x="274.54" y="322.50" textLength="5.53" lengthAdjust="spacingAndGlyphs" font-size="10.81">5</text><text x="280.75" y="322.50" textLength="5.86" lengthAdjust="spacingAndGlyphs" font-size="10.84">0</text></g> </g> </g> <g id="xtick_18"> <g id="line2d_67"> <g> <use href="#m082732734f" x="317.93" y="307.58" style="stroke: #000000; stroke-width: 0.8"/> </g> </g> <g id="text_49"> <g style="font-size:10.55px;font-family:'Liberation Sans',sans-serif;font-kerning:none" transform="rotate(-0 317.93 322.50)"><text x="308.86" y="322.50" textLength="5.49" lengthAdjust="spacingAndGlyphs" font-size="10.84">3</text><text x="314.97" y="322.50" textLength="5.72" lengthAdjust="spacingAndGlyphs" font-size="10.84">0</text><text x="321.20" y="322.50" textLength="5.72" lengthAdjust="spacingAndGlyphs" font-size="10.84">0</text></g> </g> </g> <g id="xtick_19"> <g id="line2d_68"> <g> <use href="#m082732734f" x="358.61" y="307.58" style="stroke: #000000; stroke-width: 0.8"/> </g> </g> <g id="text_50"> <g style="font-size:10.55px;font-family:'Liberation Sans',sans-serif;font-kerning:none" transform="rotate(-0 358.61 322.50)"><text x="349.54" y="322.50" textLength="5.51" lengthAdjust="spacingAndGlyphs" font-size="10.84">3</text><text x="355.79" y="322.50" textLength="5.41" lengthAdjust="spacingAndGlyphs" font-size="10.81">5</text><text x="361.87" y="322.50" textLength="5.73" lengthAdjust="spacingAndGlyphs" font-size="10.84">0</text></g> </g> </g> <g id="xtick_20"> <g id="line2d_69"> <g> <use href="#m082732734f" x="399.30" y="307.58" style="stroke: #000000; stroke-width: 0.8"/> </g> </g> <g id="text_51"> <g style="font-size:10.55px;font-family:'Liberation Sans',sans-serif;font-kerning:none" transform="rotate(-0 399.30 322.50)"><text x="390.00" y="322.50" textLength="5.76" lengthAdjust="spacingAndGlyphs" font-size="10.81">4</text><text x="396.24" y="322.50" textLength="5.76" lengthAdjust="spacingAndGlyphs" font-size="10.84">0</text><text x="402.52" y="322.50" textLength="5.76" lengthAdjust="spacingAndGlyphs" font-size="10.84">0</text></g> </g> </g> <g id="text_52"> <g style="font-size:10.55px;font-family:'Liberation Sans',sans-serif;font-kerning:none" transform="rotate(-0 236.16 336.58)"><text x="213.60" y="336.58" textLength="6.61" lengthAdjust="spacingAndGlyphs" font-size="10.81">T</text><text x="218.29" y="336.58" textLength="5.96" lengthAdjust="spacingAndGlyphs" font-size="10.62">e</text><text x="224.54" y="336.58" textLength="4.75" lengthAdjust="spacingAndGlyphs" font-size="10.65">s</text><text x="229.51" y="336.58" textLength="3.68" lengthAdjust="spacingAndGlyphs" font-size="11.08">t</text><text x="236.74" y="336.58" textLength="5.89" lengthAdjust="spacingAndGlyphs" font-size="10.84">S</text><text x="242.85" y="336.58" textLength="3.68" lengthAdjust="spacingAndGlyphs" font-size="11.08">t</text><text x="246.75" y="336.58" textLength="5.96" lengthAdjust="spacingAndGlyphs" font-size="10.62">e</text><text x="252.93" y="336.58" textLength="6.00" lengthAdjust="spacingAndGlyphs">p</text></g> </g> </g> <g id="matplotlib.axis_6"> <g id="ytick_6"> <g id="line2d_70"> <g> <use href="#mf66d849884" x="57.6" y="304.68" style="stroke: #000000; stroke-width: 0.8"/> </g> </g> <g id="text_53"> <g style="font-size:10.55px;font-family:'Liberation Sans',sans-serif;font-kerning:none" transform="rotate(-0 50.6 308.64)"><text x="23.49" y="308.64" textLength="7.47" lengthAdjust="spacingAndGlyphs" font-size="9.83">−</text><text x="31.60" y="308.64" textLength="5.61" lengthAdjust="spacingAndGlyphs" font-size="10.84">2</text><text x="37.92" y="308.64" textLength="5.82" lengthAdjust="spacingAndGlyphs" font-size="10.84">0</text><text x="44.27" y="308.64" textLength="5.82" lengthAdjust="spacingAndGlyphs" font-size="10.84">0</text></g> </g> </g> <g id="ytick_7"> <g id="line2d_71"> <g> <use href="#mf66d849884" x="57.6" y="270.02" style="stroke: #000000; stroke-width: 0.8"/> </g> </g> <g id="text_54"> <g style="font-size:10.55px;font-family:'Liberation Sans',sans-serif;font-kerning:none" transform="rotate(-0 50.6 273.98)"><text x="23.49" y="273.99" textLength="7.47" lengthAdjust="spacingAndGlyphs" font-size="9.83">−</text><text x="31.71" y="273.99" textLength="5.56" lengthAdjust="spacingAndGlyphs" font-size="10.81">1</text><text x="37.92" y="273.99" textLength="5.82" lengthAdjust="spacingAndGlyphs" font-size="10.84">0</text><text x="44.27" y="273.99" textLength="5.82" lengthAdjust="spacingAndGlyphs" font-size="10.84">0</text></g> </g> </g> <g id="ytick_8"> <g id="line2d_72"> <g> <use href="#mf66d849884" x="57.6" y="235.36" style="stroke: #000000; stroke-width: 0.8"/> </g> </g> <g id="text_55"> <text x="44.95" y="239.33" textLength="5.86" lengthAdjust="spacingAndGlyphs" style="font-size:10.55px;font-family:'Liberation Sans',sans-serif;font-kerning:none" transform="rotate(-0 50.6 239.32)">0</text> </g> </g> <g id="text_56"> <g style="font-size:10.55px;font-family:'Liberation Sans',sans-serif;font-kerning:none" transform="rotate(-90 16.94 268.44)"><text x="-17.10" y="268.45" textLength="8.28" lengthAdjust="spacingAndGlyphs" font-size="10.81">M</text><text x="-8.56" y="268.45" textLength="5.99" lengthAdjust="spacingAndGlyphs" font-size="10.62">e</text><text x="-2.34" y="268.45" textLength="4.98" lengthAdjust="spacingAndGlyphs" font-size="10.62">a</text><text x="3.74" y="268.45" textLength="5.98" lengthAdjust="spacingAndGlyphs" font-size="10.62">n</text><text x="13.25" y="268.45" textLength="6.88" lengthAdjust="spacingAndGlyphs" font-size="10.81">R</text><text x="19.60" y="268.45" textLength="5.99" lengthAdjust="spacingAndGlyphs" font-size="10.62">e</text><text x="26.04" y="268.45" textLength="7.27" lengthAdjust="spacingAndGlyphs" font-size="10.56">w</text><text x="33.99" y="268.45" textLength="4.98" lengthAdjust="spacingAndGlyphs" font-size="10.62">a</text><text x="39.93" y="268.45" textLength="4.25" lengthAdjust="spacingAndGlyphs" font-size="10.62">r</text><text x="43.91" y="268.45" textLength="6.02" lengthAdjust="spacingAndGlyphs" font-size="10.69">d</text></g> </g> </g> <g id="line2d_73"> <path d="M 73.83 234.73 L 76.27 234.81 L 77.08 234.59 L 78.71 234.77 L 79.52 234.90 L 80.34 234.66 L 81.15 234.76 L 81.96 234.66 L 82.78 234.74 L 84.41 234.64 L 86.85 234.96 L 88.47 234.85 L 89.29 234.81 L 90.10 234.53 L 92.54 235.10 L 93.36 235.14 L 94.17 234.98 L 94.98 235.28 L 95.80 235.03 L 96.61 235.26 L 97.42 234.98 L 99.87 234.87 L 100.68 235.13 L 101.49 235.17 L 103.12 235.03 L 103.93 235.16 L 104.75 235.11 L 106.37 235.34 L 108.82 234.94 L 109.63 234.95 L 111.26 235.25 L 112.88 235.00 L 113.70 235.07 L 114.51 235.27 L 115.32 235.22 L 116.95 235.35 L 121.02 235.21 L 121.83 235.30 L 123.46 235.32 L 124.28 235.49 L 125.09 235.26 L 125.90 235.27 L 127.53 235.11 L 128.34 235.00 L 131.60 235.24 L 132.41 234.89 L 133.23 235.23 L 136.48 235.22 L 139.74 234.98 L 140.55 235.24 L 141.36 235.16 L 142.99 235.18 L 144.62 235.02 L 145.43 235.24 L 146.24 235.32 L 148.69 234.88 L 155.19 235.22 L 156.82 235.41 L 157.64 235.21 L 160.89 235.20 L 165.77 235.09 L 169.84 235.34 L 171.47 235.04 L 172.28 234.99 L 173.91 235.12 L 175.54 235.13 L 177.16 234.89 L 177.98 235.07 L 178.79 234.98 L 180.42 235.26 L 182.05 235.40 L 184.49 235.10 L 185.30 235.15 L 186.11 235.37 L 186.93 235.16 L 192.62 234.87 L 193.44 235.04 L 194.25 234.90 L 197.51 235.08 L 199.13 235.24 L 199.95 235.32 L 202.39 235.22 L 203.20 235.37 L 204.02 235.25 L 204.83 235.27 L 206.46 234.95 L 208.90 235.09 L 209.71 235.02 L 210.52 235.24 L 211.34 235.13 L 212.15 235.33 L 214.59 235.13 L 216.22 234.83 L 217.03 234.97 L 218.66 234.94 L 219.47 235.06 L 220.29 234.94 L 221.10 235.08 L 221.92 235.02 L 222.73 235.26 L 223.54 235.06 L 224.36 235.20 L 225.17 235.00 L 226.80 235.06 L 228.43 234.82 L 230.05 234.92 L 231.68 235.29 L 232.49 235.46 L 234.12 235.03 L 236.56 234.93 L 239.82 235.10 L 240.63 234.95 L 241.44 235.10 L 242.26 235.02 L 245.51 235.10 L 246.33 235.03 L 247.14 235.09 L 247.95 234.85 L 248.77 235.05 L 252.02 235.25 L 252.84 235.09 L 253.65 235.11 L 254.46 235.29 L 255.28 235.24 L 256.09 235.37 L 257.72 235.18 L 260.97 235.01 L 261.79 235.08 L 263.41 235.03 L 265.04 235.20 L 265.85 235.04 L 266.67 235.14 L 269.92 235.08 L 270.74 235.25 L 271.55 235.07 L 273.18 234.92 L 274.80 234.96 L 277.25 234.99 L 278.06 235.08 L 278.87 235.03 L 279.69 235.13 L 280.50 235.35 L 281.31 235.38 L 282.94 234.97 L 286.20 235.29 L 287.01 235.41 L 289.45 235.20 L 290.26 235.33 L 299.21 235.16 L 300.03 235.30 L 301.66 235.17 L 304.10 235.21 L 305.72 235.21 L 306.54 235.34 L 308.16 235.15 L 310.61 235.03 L 311.42 235.14 L 312.23 234.99 L 313.05 235.20 L 314.67 234.94 L 315.49 234.96 L 316.30 235.33 L 317.93 235.07 L 320.37 235.08 L 321.18 235.30 L 322.81 234.82 L 323.62 235.00 L 325.25 235.10 L 326.07 235.22 L 327.69 234.95 L 329.32 235.15 L 330.13 235.07 L 333.39 235.37 L 334.20 235.25 L 335.02 235.33 L 335.83 235.05 L 336.64 235.04 L 337.46 234.91 L 339.90 235.14 L 343.97 235.03 L 344.78 234.89 L 346.41 234.98 L 348.03 235.29 L 348.85 235.20 L 351.29 235.42 L 353.73 235.18 L 354.54 235.20 L 355.36 234.92 L 356.17 235.04 L 357.80 234.88 L 358.61 234.86 L 359.43 235.00 L 360.24 234.82 L 361.87 235.10 L 362.68 235.03 L 364.31 235.24 L 365.12 234.96 L 365.94 234.85 L 370.00 235.50 L 371.63 235.41 L 372.44 235.11 L 373.26 235.12 L 374.07 234.98 L 375.70 235.22 L 376.51 234.90 L 377.33 235.06 L 378.14 234.90 L 378.95 234.99 L 379.77 235.31 L 380.58 235.29 L 381.40 235.07 L 383.02 234.93 L 384.65 235.07 L 385.46 235.07 L 386.28 235.25 L 388.72 235.10 L 390.35 235.07 L 391.16 235.24 L 391.97 235.02 L 394.41 235.03 L 395.23 234.96 L 396.85 235.30 L 398.48 235.21 L 398.48 235.21 " clip-path="url(#p887e0a58e9)" style="fill: none; stroke: #1f77b4; stroke-width: 0.75; stroke-linecap: square"/> </g> <g id="line2d_74"> <path d="M 73.83 233.69 L 74.64 234.08 L 75.46 233.99 L 76.27 232.88 L 77.08 233.49 L 77.90 233.13 L 78.71 233.77 L 79.52 234.19 L 80.34 233.98 L 81.15 234.33 L 81.96 233.61 L 82.78 233.83 L 83.59 233.63 L 84.41 233.66 L 85.22 233.83 L 86.03 233.84 L 86.85 234.26 L 89.29 233.75 L 90.91 233.91 L 91.73 234.15 L 92.54 234.57 L 93.36 234.77 L 94.17 234.20 L 94.98 234.16 L 95.80 234.65 L 96.61 234.22 L 97.42 262.23 L 98.24 260.66 L 99.05 259.87 L 99.87 267.87 L 100.68 266.41 L 101.49 271.75 L 102.31 271.28 L 103.12 271.12 L 103.93 281.01 L 104.75 280.62 L 105.56 284.65 L 106.37 283.82 L 107.19 283.16 L 108.00 286.81 L 108.82 285.70 L 109.63 289.51 L 110.44 288.92 L 111.26 287.79 L 112.07 292.16 L 112.88 291.79 L 113.70 294.12 L 115.32 293.25 L 116.14 297.65 L 116.95 296.79 L 117.77 298.01 L 118.58 297.93 L 119.39 297.57 L 120.21 299.71 L 121.02 299.57 L 121.83 299.86 L 123.46 300.30 L 124.28 300.68 L 125.09 300.60 L 125.90 301.52 L 126.72 301.87 L 127.53 301.85 L 128.34 300.98 L 129.97 301.88 L 130.78 301.87 L 131.60 300.71 L 132.41 301.92 L 134.04 301.68 L 134.85 302.54 L 135.67 302.21 L 136.48 302.24 L 137.29 302.59 L 138.11 301.64 L 138.92 303.06 L 139.74 302.47 L 140.55 302.77 L 142.18 302.43 L 142.99 301.98 L 143.80 301.81 L 144.62 302.72 L 145.43 302.56 L 146.24 302.75 L 147.87 302.78 L 148.69 302.66 L 149.50 302.28 L 150.31 302.41 L 151.13 303.28 L 151.94 303.07 L 152.75 302.64 L 153.57 302.64 L 154.38 303.05 L 155.19 302.46 L 156.01 303.25 L 156.82 303.11 L 157.64 303.10 L 158.45 303.91 L 159.26 302.89 L 160.08 302.92 L 160.89 303.71 L 161.70 303.31 L 163.33 303.61 L 164.96 302.60 L 165.77 302.70 L 166.59 303.34 L 167.40 303.51 L 168.21 302.97 L 169.84 303.08 L 170.65 303.17 L 172.28 302.97 L 173.10 303.45 L 173.91 303.23 L 174.72 302.52 L 175.54 303.02 L 176.35 303.07 L 177.16 302.69 L 177.98 303.44 L 178.79 303.23 L 179.60 303.22 L 180.42 302.73 L 181.23 303.54 L 182.05 302.57 L 182.86 303.32 L 183.67 303.41 L 186.11 303.02 L 186.93 303.38 L 187.74 302.78 L 188.56 301.94 L 189.37 303.59 L 190.18 302.88 L 191.00 303.51 L 191.81 302.91 L 193.44 303.36 L 194.25 302.92 L 195.06 303.13 L 195.88 302.53 L 196.69 303.41 L 197.51 302.97 L 198.32 302.37 L 199.13 303.42 L 199.95 303.36 L 200.76 303.15 L 201.57 303.45 L 202.39 302.54 L 204.02 303.64 L 204.83 302.89 L 205.64 302.41 L 206.46 302.75 L 207.27 303.78 L 208.08 303.33 L 208.90 303.89 L 209.71 302.98 L 210.52 303.14 L 211.34 302.43 L 212.15 303.01 L 212.97 302.94 L 215.41 303.09 L 216.22 302.74 L 217.03 303.17 L 217.85 302.97 L 218.66 302.95 L 220.29 303.22 L 221.10 303.49 L 221.92 303.21 L 222.73 303.15 L 223.54 303.67 L 224.36 302.77 L 225.17 303.07 L 228.43 302.96 L 229.24 303.74 L 230.05 303.42 L 230.87 303.27 L 231.68 302.42 L 233.31 303.05 L 234.12 303.69 L 234.93 303.77 L 235.75 302.80 L 236.56 303.15 L 237.38 302.69 L 238.19 303.16 L 239.00 303.02 L 239.82 303.41 L 240.63 303.11 L 241.44 303.24 L 242.26 303.14 L 246.33 303.10 L 247.14 303.05 L 247.95 303.41 L 248.77 303.15 L 249.58 302.68 L 250.39 303.19 L 251.21 302.61 L 252.02 303.57 L 252.84 303.53 L 253.65 303.86 L 254.46 303.15 L 256.09 302.90 L 256.90 303.49 L 257.72 303.50 L 258.53 302.91 L 259.34 302.69 L 260.16 303.89 L 260.97 303.26 L 261.79 303.27 L 262.60 303.16 L 263.41 303.40 L 265.04 302.72 L 265.85 303.24 L 266.67 302.86 L 268.29 303.60 L 269.11 302.99 L 270.74 303.41 L 273.18 303.09 L 273.99 303.50 L 275.62 302.97 L 276.43 302.97 L 277.25 302.72 L 278.06 303.03 L 278.87 302.76 L 279.69 303.56 L 280.50 303.41 L 281.31 302.93 L 282.13 302.94 L 282.94 303.66 L 283.75 303.47 L 285.38 303.32 L 286.20 303.58 L 287.82 303.30 L 288.64 303.31 L 289.45 303.59 L 291.08 302.57 L 291.89 303.79 L 292.71 302.73 L 293.52 303.60 L 294.33 303.62 L 295.15 302.96 L 295.96 303.54 L 296.77 302.70 L 297.59 303.25 L 298.40 303.43 L 299.21 303.33 L 300.03 303.89 L 300.84 303.22 L 301.66 303.09 L 302.47 303.74 L 303.28 303.61 L 304.10 303.01 L 304.91 302.80 L 305.72 302.78 L 306.54 303.51 L 307.35 303.53 L 308.16 302.89 L 308.98 303.38 L 309.79 303.27 L 310.61 302.91 L 311.42 302.96 L 312.23 302.89 L 313.05 303.63 L 313.86 303.04 L 314.67 303.77 L 315.49 303.52 L 316.30 303.47 L 317.12 302.48 L 317.93 303.03 L 318.74 303.34 L 319.56 303.21 L 320.37 303.74 L 321.18 303.00 L 322.00 302.49 L 322.81 303.29 L 323.62 302.92 L 324.44 302.80 L 325.25 303.78 L 326.07 304.02 L 326.88 302.78 L 327.69 303.09 L 329.32 302.83 L 330.13 303.64 L 330.95 303.18 L 331.76 303.00 L 332.57 303.65 L 333.39 303.05 L 334.20 303.21 L 335.02 303.90 L 335.83 303.34 L 336.64 303.49 L 337.46 303.25 L 338.27 303.61 L 339.08 303.34 L 339.90 303.39 L 340.71 303.20 L 341.53 303.38 L 343.15 303.24 L 343.97 302.77 L 344.78 303.33 L 345.59 303.56 L 347.22 302.93 L 348.03 303.26 L 348.85 303.24 L 349.66 303.48 L 350.48 303.30 L 351.29 303.53 L 352.10 303.30 L 352.92 302.93 L 353.73 303.40 L 355.36 302.62 L 356.17 303.16 L 356.99 302.98 L 357.80 303.27 L 358.61 303.34 L 359.43 303.07 L 360.24 303.22 L 361.05 303.14 L 361.87 303.63 L 362.68 302.79 L 363.49 303.39 L 364.31 303.19 L 365.12 303.49 L 365.94 303.04 L 366.75 302.80 L 367.56 303.02 L 368.38 303.06 L 369.19 303.50 L 370.00 303.81 L 370.82 303.32 L 371.63 302.96 L 372.44 303.26 L 373.26 302.94 L 374.07 303.57 L 374.89 303.06 L 375.70 303.24 L 376.51 303.26 L 377.33 303.67 L 378.14 303.35 L 378.95 303.42 L 379.77 302.98 L 380.58 303.04 L 381.40 303.65 L 383.02 303.16 L 383.84 303.55 L 385.46 303.27 L 386.28 302.72 L 387.09 303.45 L 387.90 303.05 L 388.72 303.44 L 389.53 303.01 L 390.35 303.47 L 391.97 302.92 L 392.79 303.43 L 393.60 303.64 L 394.41 303.14 L 395.23 303.22 L 396.04 302.92 L 396.85 303.27 L 397.67 303.25 L 398.48 303.65 L 398.48 303.65 " clip-path="url(#p887e0a58e9)" style="fill: none; stroke: #ff7f0e; stroke-width: 0.75; stroke-linecap: square"/> </g> <g id="line2d_75"> <path d="M 73.83 234.73 L 76.27 234.81 L 77.08 234.59 L 78.71 234.77 L 79.52 234.90 L 80.34 234.66 L 81.15 234.76 L 81.96 234.66 L 82.78 234.74 L 84.41 234.64 L 86.85 234.96 L 88.47 234.85 L 89.29 234.81 L 90.10 234.53 L 92.54 235.10 L 93.36 235.14 L 94.17 234.98 L 94.98 235.28 L 95.80 235.03 L 96.61 235.26 L 97.42 234.98 L 99.87 234.87 L 100.68 235.13 L 101.49 235.17 L 103.12 235.03 L 103.93 235.16 L 104.75 235.11 L 106.37 235.34 L 108.82 234.94 L 109.63 234.95 L 111.26 235.25 L 112.88 235.00 L 113.70 235.07 L 114.51 235.27 L 115.32 235.22 L 116.95 235.35 L 121.02 235.21 L 121.83 235.30 L 123.46 235.32 L 124.28 235.49 L 125.09 235.26 L 125.90 235.27 L 127.53 235.11 L 128.34 235.00 L 131.60 235.24 L 132.41 234.89 L 133.23 235.23 L 136.48 235.22 L 139.74 234.98 L 140.55 235.24 L 141.36 235.16 L 142.99 235.18 L 144.62 235.02 L 145.43 235.24 L 146.24 235.32 L 148.69 234.88 L 155.19 235.22 L 156.82 235.41 L 157.64 235.21 L 160.89 235.20 L 165.77 235.09 L 169.84 235.34 L 171.47 235.04 L 172.28 234.99 L 173.91 235.12 L 175.54 235.13 L 177.16 234.89 L 177.98 235.07 L 178.79 234.98 L 180.42 235.26 L 182.05 235.40 L 184.49 235.10 L 185.30 235.15 L 186.11 235.37 L 186.93 235.16 L 192.62 234.87 L 193.44 235.04 L 194.25 234.90 L 197.51 235.08 L 199.13 235.24 L 199.95 235.32 L 202.39 235.22 L 203.20 235.37 L 204.02 235.25 L 204.83 235.27 L 206.46 234.95 L 208.90 235.09 L 209.71 235.02 L 210.52 235.24 L 211.34 235.13 L 212.15 235.33 L 214.59 235.13 L 216.22 234.83 L 217.03 234.97 L 218.66 234.94 L 219.47 235.06 L 220.29 234.94 L 221.10 235.08 L 221.92 235.02 L 222.73 235.26 L 223.54 235.06 L 224.36 235.20 L 225.17 235.00 L 226.80 235.06 L 228.43 234.82 L 230.05 234.92 L 231.68 235.29 L 232.49 235.46 L 234.12 235.03 L 236.56 234.93 L 239.82 235.10 L 240.63 234.95 L 241.44 235.10 L 242.26 235.02 L 245.51 235.10 L 246.33 235.03 L 247.14 235.09 L 247.95 234.85 L 248.77 235.05 L 252.02 235.25 L 252.84 235.09 L 253.65 235.11 L 254.46 235.29 L 255.28 235.24 L 256.09 235.37 L 257.72 235.18 L 260.97 235.01 L 261.79 235.08 L 263.41 235.03 L 265.04 235.20 L 265.85 235.04 L 266.67 235.14 L 269.92 235.08 L 270.74 235.25 L 271.55 235.07 L 273.18 234.92 L 274.80 234.96 L 277.25 234.99 L 278.06 235.08 L 278.87 235.03 L 279.69 235.13 L 280.50 235.35 L 281.31 235.38 L 282.94 234.97 L 286.20 235.29 L 287.01 235.41 L 289.45 235.20 L 290.26 235.33 L 299.21 235.16 L 300.03 235.30 L 301.66 235.17 L 304.10 235.21 L 305.72 235.21 L 306.54 235.34 L 308.16 235.15 L 310.61 235.03 L 311.42 235.14 L 312.23 234.99 L 313.05 235.20 L 314.67 234.94 L 315.49 234.96 L 316.30 235.33 L 317.93 235.07 L 320.37 235.08 L 321.18 235.30 L 322.81 234.82 L 323.62 235.00 L 325.25 235.10 L 326.07 235.22 L 327.69 234.95 L 329.32 235.15 L 330.13 235.07 L 333.39 235.37 L 334.20 235.25 L 335.02 235.33 L 335.83 235.05 L 336.64 235.04 L 337.46 234.91 L 339.90 235.14 L 343.97 235.03 L 344.78 234.89 L 346.41 234.98 L 348.03 235.29 L 348.85 235.20 L 351.29 235.42 L 353.73 235.18 L 354.54 235.20 L 355.36 234.92 L 356.17 235.04 L 357.80 234.88 L 358.61 234.86 L 359.43 235.00 L 360.24 234.82 L 361.87 235.10 L 362.68 235.03 L 364.31 235.24 L 365.12 234.96 L 365.94 234.85 L 370.00 235.50 L 371.63 235.41 L 372.44 235.11 L 373.26 235.12 L 374.07 234.98 L 375.70 235.22 L 376.51 234.90 L 377.33 235.06 L 378.14 234.90 L 378.95 234.99 L 379.77 235.31 L 380.58 235.29 L 381.40 235.07 L 383.02 234.93 L 384.65 235.07 L 385.46 235.07 L 386.28 235.25 L 388.72 235.10 L 390.35 235.07 L 391.16 235.24 L 391.97 235.02 L 394.41 235.03 L 395.23 234.96 L 396.85 235.30 L 398.48 235.21 L 398.48 235.21 " clip-path="url(#p887e0a58e9)" style="fill: none; stroke: #2ca02c; stroke-width: 0.75; stroke-linecap: square"/> </g> <g id="line2d_76"> <path d="M 73.83 233.65 L 74.64 234.12 L 75.46 234.22 L 76.27 232.87 L 77.08 233.28 L 78.71 233.81 L 79.52 234.13 L 80.34 233.92 L 81.15 234.08 L 81.96 233.71 L 82.78 233.88 L 85.22 233.97 L 86.85 234.20 L 88.47 233.92 L 89.29 233.53 L 90.10 233.80 L 90.91 233.85 L 92.54 234.56 L 93.36 234.43 L 94.17 234.19 L 94.98 234.40 L 95.80 234.33 L 96.61 234.07 L 97.42 262.22 L 98.24 260.42 L 99.05 259.76 L 99.87 267.87 L 100.68 266.17 L 101.49 271.79 L 103.12 270.89 L 103.93 281.01 L 104.75 280.80 L 105.56 284.61 L 107.19 283.26 L 108.00 286.76 L 108.82 285.86 L 109.63 289.57 L 111.26 287.87 L 112.07 292.31 L 112.88 291.93 L 113.70 294.01 L 115.32 293.49 L 116.14 297.68 L 116.95 296.99 L 117.77 298.23 L 119.39 297.68 L 120.21 299.65 L 122.65 299.93 L 124.28 300.66 L 125.09 300.66 L 125.90 301.60 L 127.53 301.73 L 128.34 301.04 L 130.78 302.32 L 131.60 300.90 L 132.41 301.91 L 134.04 301.91 L 134.85 302.60 L 135.67 301.91 L 137.29 302.60 L 138.11 302.01 L 138.92 302.74 L 141.36 302.74 L 142.99 302.01 L 143.80 302.01 L 144.62 302.74 L 147.87 302.74 L 148.69 302.58 L 149.50 302.26 L 151.13 303.08 L 151.94 302.78 L 152.75 302.64 L 154.38 303.23 L 155.19 302.69 L 156.01 303.47 L 156.82 302.98 L 157.64 303.13 L 158.45 303.45 L 159.26 302.79 L 160.08 303.03 L 160.89 303.45 L 161.70 302.96 L 162.52 303.25 L 163.33 303.65 L 164.96 303.05 L 165.77 302.95 L 167.40 303.12 L 168.21 303.00 L 169.03 303.19 L 169.84 302.80 L 170.65 303.09 L 172.28 302.98 L 173.10 303.43 L 173.91 303.33 L 174.72 302.71 L 175.54 303.04 L 176.35 303.21 L 177.16 303.04 L 177.98 303.27 L 178.79 303.06 L 179.60 303.32 L 180.42 303.06 L 181.23 303.58 L 182.05 302.77 L 182.86 303.28 L 183.67 303.58 L 184.49 303.20 L 185.30 303.24 L 186.11 303.10 L 186.93 303.46 L 187.74 303.03 L 188.56 302.14 L 189.37 303.50 L 190.18 303.05 L 191.00 303.23 L 191.81 303.09 L 192.62 303.65 L 193.44 303.47 L 194.25 303.02 L 195.06 303.16 L 195.88 302.70 L 196.69 303.35 L 197.51 303.10 L 198.32 302.34 L 199.13 303.36 L 199.95 303.40 L 200.76 303.16 L 201.57 303.17 L 202.39 302.92 L 204.02 303.36 L 204.83 303.10 L 205.64 302.42 L 206.46 302.80 L 207.27 303.93 L 208.08 303.20 L 208.90 303.40 L 209.71 302.99 L 210.52 303.21 L 211.34 302.62 L 212.15 302.90 L 212.97 302.91 L 213.78 303.11 L 214.59 303.17 L 215.41 303.07 L 216.22 302.80 L 217.85 303.26 L 218.66 302.81 L 219.47 303.11 L 220.29 303.19 L 221.10 303.39 L 222.73 303.34 L 223.54 303.94 L 224.36 302.89 L 225.98 303.23 L 226.80 302.88 L 227.61 303.05 L 228.43 303.07 L 229.24 303.86 L 230.05 303.24 L 232.49 302.67 L 233.31 302.78 L 234.12 303.50 L 234.93 303.79 L 235.75 303.02 L 236.56 303.17 L 237.38 302.91 L 238.19 303.21 L 239.00 303.12 L 239.82 303.60 L 240.63 303.06 L 241.44 303.31 L 242.26 303.09 L 243.07 303.06 L 243.88 303.22 L 244.70 303.10 L 245.51 303.19 L 246.33 302.97 L 247.14 303.05 L 247.95 303.34 L 248.77 303.35 L 249.58 302.70 L 250.39 303.22 L 251.21 302.91 L 253.65 303.40 L 254.46 303.16 L 256.09 303.02 L 256.90 303.54 L 258.53 303.22 L 259.34 302.75 L 260.16 303.85 L 260.97 303.07 L 261.79 303.35 L 262.60 303.08 L 263.41 303.33 L 265.04 302.76 L 265.85 303.10 L 267.48 303.10 L 268.29 303.41 L 269.11 303.05 L 270.74 303.43 L 271.55 303.21 L 272.36 303.27 L 273.18 303.00 L 274.80 303.35 L 275.62 302.80 L 276.43 302.93 L 277.25 302.86 L 279.69 303.33 L 280.50 303.29 L 281.31 302.95 L 282.13 303.18 L 282.94 303.62 L 283.75 303.22 L 284.57 303.61 L 285.38 303.17 L 286.20 303.55 L 287.01 303.56 L 287.82 303.18 L 288.64 303.24 L 289.45 303.68 L 290.26 303.01 L 291.08 302.62 L 291.89 303.63 L 292.71 302.71 L 293.52 303.41 L 295.15 303.27 L 295.96 303.62 L 296.77 302.86 L 297.59 303.09 L 298.40 303.43 L 299.21 303.30 L 300.03 303.64 L 301.66 302.96 L 302.47 303.70 L 303.28 303.35 L 305.72 302.85 L 306.54 303.35 L 307.35 303.43 L 308.16 303.10 L 308.98 303.33 L 309.79 303.32 L 310.61 302.93 L 311.42 302.76 L 312.23 303.16 L 313.05 303.29 L 313.86 303.07 L 314.67 303.76 L 315.49 303.24 L 316.30 303.53 L 317.12 302.57 L 317.93 303.04 L 319.56 303.29 L 320.37 303.94 L 321.18 303.04 L 322.00 302.79 L 322.81 303.44 L 323.62 303.05 L 324.44 303.04 L 325.25 303.67 L 326.07 304.02 L 326.88 302.87 L 327.69 303.18 L 328.51 303.26 L 329.32 303.03 L 330.13 303.67 L 330.95 303.22 L 331.76 302.95 L 332.57 303.59 L 333.39 302.97 L 335.02 303.83 L 335.83 303.28 L 336.64 303.52 L 337.46 303.16 L 338.27 303.58 L 339.08 302.96 L 339.90 303.46 L 340.71 303.15 L 341.53 303.42 L 342.34 303.34 L 343.15 302.92 L 344.78 303.36 L 345.59 303.60 L 346.41 302.93 L 347.22 303.05 L 348.03 303.35 L 348.85 303.19 L 349.66 303.54 L 351.29 303.49 L 352.10 303.16 L 352.92 303.18 L 353.73 303.47 L 354.54 303.06 L 355.36 303.05 L 356.17 303.22 L 356.99 302.98 L 357.80 303.34 L 358.61 303.30 L 359.43 303.13 L 360.24 303.28 L 361.05 303.05 L 361.87 303.61 L 362.68 302.87 L 363.49 303.49 L 364.31 303.31 L 365.12 303.65 L 365.94 303.10 L 366.75 302.92 L 368.38 303.04 L 369.19 303.70 L 370.00 303.49 L 370.82 303.40 L 371.63 303.53 L 372.44 302.96 L 373.26 303.22 L 374.07 303.28 L 374.89 303.14 L 375.70 303.54 L 377.33 303.52 L 378.14 303.14 L 379.77 303.12 L 380.58 302.98 L 381.40 303.66 L 383.02 303.24 L 383.84 303.66 L 384.65 303.43 L 385.46 303.00 L 387.09 302.99 L 387.90 303.27 L 388.72 303.35 L 389.53 302.99 L 390.35 303.39 L 391.97 302.92 L 392.79 303.39 L 393.60 303.46 L 395.23 303.13 L 397.67 303.14 L 398.48 303.74 L 398.48 303.74 " clip-path="url(#p887e0a58e9)" style="fill: none; stroke: #d62728; stroke-width: 0.75; stroke-linecap: square"/> </g> <g id="line2d_77"> <path d="M 73.83 234.91 L 79.52 235.00 L 83.59 235.04 L 86.03 235.25 L 89.29 235.11 L 90.10 235.15 L 91.73 234.92 L 94.98 235.00 L 100.68 234.83 L 103.93 234.94 L 107.19 235.30 L 112.07 235.00 L 116.95 235.22 L 122.65 234.89 L 124.28 235.27 L 126.72 235.13 L 129.97 234.87 L 131.60 234.79 L 133.23 235.29 L 137.29 235.21 L 141.36 234.96 L 145.43 234.92 L 147.87 234.96 L 150.31 235.22 L 158.45 235.00 L 160.89 235.11 L 164.15 235.19 L 166.59 235.31 L 168.21 234.89 L 173.10 235.12 L 178.79 234.86 L 182.86 234.95 L 184.49 235.14 L 187.74 235.03 L 189.37 235.11 L 192.62 234.88 L 199.13 234.90 L 199.95 234.87 L 202.39 235.03 L 203.20 235.01 L 204.83 235.24 L 209.71 234.98 L 212.97 235.17 L 214.59 235.02 L 217.03 235.33 L 223.54 234.98 L 231.68 235.04 L 233.31 234.97 L 240.63 235.06 L 243.88 235.24 L 246.33 235.02 L 250.39 235.30 L 253.65 234.82 L 256.90 235.15 L 260.97 235.12 L 262.60 235.08 L 264.23 235.27 L 269.11 234.83 L 273.99 234.85 L 279.69 234.93 L 282.13 234.81 L 283.75 235.15 L 287.01 235.15 L 287.82 235.23 L 290.26 234.95 L 291.08 234.81 L 297.59 235.03 L 313.05 235.16 L 315.49 235.23 L 322.81 234.95 L 327.69 235.20 L 329.32 235.18 L 330.95 234.88 L 333.39 235.25 L 338.27 235.11 L 339.90 234.88 L 342.34 235.26 L 346.41 234.91 L 347.22 234.82 L 349.66 235.10 L 352.92 234.88 L 356.17 234.99 L 360.24 235.29 L 363.49 235.08 L 365.12 234.82 L 367.56 235.15 L 371.63 234.93 L 373.26 234.81 L 377.33 235.27 L 378.95 234.79 L 383.84 234.98 L 386.28 235.07 L 388.72 235.33 L 390.35 234.98 L 391.97 234.87 L 398.48 235.27 L 398.48 235.27 " clip-path="url(#p887e0a58e9)" style="fill: none; stroke: #9467bd; stroke-width: 0.75; stroke-linecap: square"/> </g> <g id="line2d_78"> <path d="M 73.83 234.53 L 75.46 234.81 L 77.08 234.36 L 79.52 234.76 L 82.78 234.52 L 85.22 234.64 L 86.85 234.87 L 89.29 234.42 L 93.36 234.94 L 94.98 234.98 L 96.61 234.80 L 97.42 249.61 L 99.05 248.60 L 99.87 253.87 L 100.68 253.00 L 101.49 256.89 L 102.31 255.53 L 103.12 255.81 L 103.93 259.76 L 104.75 259.76 L 105.56 262.12 L 106.37 261.53 L 107.19 261.22 L 108.00 263.12 L 108.82 263.12 L 109.63 264.27 L 111.26 263.37 L 112.07 265.93 L 112.88 265.93 L 113.70 267.42 L 114.51 266.90 L 115.32 266.63 L 116.14 267.73 L 116.95 267.94 L 119.39 268.08 L 120.21 268.64 L 124.28 268.98 L 125.90 269.95 L 398.48 270.02 L 398.48 270.02 " clip-path="url(#p887e0a58e9)" style="fill: none; stroke: #8c564b; stroke-width: 0.75; stroke-linecap: square"/> </g> <g id="line2d_79"> <path d="M 73.83 235.36 L 81.15 235.19 L 94.98 235.20 L 98.24 235.29 L 102.31 235.09 L 108.82 235.15 L 112.88 235.17 L 118.58 235.26 L 135.67 235.10 L 138.11 235.13 L 141.36 235.28 L 153.57 235.10 L 172.28 235.17 L 179.60 235.08 L 183.67 235.17 L 188.56 235.29 L 191.81 235.25 L 197.51 235.28 L 203.20 235.14 L 205.64 235.12 L 209.71 235.22 L 215.41 235.27 L 218.66 235.26 L 221.10 235.18 L 224.36 235.16 L 226.80 235.06 L 231.68 235.11 L 238.19 235.05 L 242.26 235.19 L 248.77 235.34 L 260.97 235.23 L 263.41 235.28 L 267.48 235.18 L 270.74 235.22 L 276.43 235.20 L 281.31 235.30 L 284.57 235.19 L 287.01 235.06 L 300.03 235.32 L 306.54 235.25 L 310.61 235.17 L 314.67 235.12 L 318.74 235.02 L 325.25 235.21 L 328.51 235.15 L 330.95 235.33 L 334.20 235.09 L 343.15 235.09 L 345.59 235.33 L 350.48 235.09 L 356.17 235.17 L 360.24 235.11 L 365.12 235.29 L 375.70 235.12 L 378.95 235.16 L 383.84 235.27 L 387.09 235.15 L 392.79 235.29 L 398.48 235.21 L 398.48 235.21 " clip-path="url(#p887e0a58e9)" style="fill: none; stroke: #e377c2; stroke-width: 0.75; stroke-linecap: square"/> </g> <g id="line2d_80"> <path d="M 73.83 235.08 L 83.59 235.34 L 84.41 235.35 L 86.85 234.74 L 89.29 235.31 L 93.36 234.81 L 105.56 235.31 L 112.07 234.76 L 116.14 235.00 L 121.02 235.06 L 125.09 234.85 L 133.23 235.07 L 134.85 235.08 L 144.62 234.90 L 147.87 235.26 L 155.19 234.79 L 162.52 234.90 L 170.65 234.87 L 178.79 235.05 L 191.00 235.04 L 195.06 235.32 L 205.64 235.23 L 208.08 235.11 L 210.52 234.85 L 217.03 235.22 L 223.54 235.06 L 225.17 234.85 L 231.68 235.27 L 240.63 235.23 L 244.70 235.33 L 247.95 234.90 L 252.84 235.15 L 258.53 235.16 L 260.97 235.32 L 263.41 234.84 L 269.11 235.26 L 275.62 234.96 L 277.25 234.97 L 280.50 235.13 L 285.38 235.09 L 288.64 235.11 L 291.08 235.03 L 299.21 235.12 L 302.47 235.13 L 308.16 235.36 L 310.61 235.28 L 316.30 234.83 L 321.18 234.78 L 334.20 234.94 L 343.15 234.78 L 343.97 234.75 L 348.03 235.14 L 352.92 235.02 L 354.54 234.88 L 363.49 235.27 L 365.12 235.30 L 369.19 234.80 L 371.63 235.35 L 378.14 234.80 L 383.02 234.86 L 387.90 235.26 L 391.97 234.89 L 396.04 235.19 L 398.48 235.19 L 398.48 235.19 " clip-path="url(#p887e0a58e9)" style="fill: none; stroke: #7f7f7f; stroke-width: 0.75; stroke-linecap: square"/> </g> <g id="line2d_81"> <path d="M 73.83 235.50 L 96.61 235.50 L 97.42 249.61 L 99.05 248.60 L 99.87 251.31 L 100.68 250.79 L 101.49 253.00 L 103.12 253.00 L 103.93 257.86 L 104.75 257.96 L 105.56 259.52 L 107.19 258.97 L 108.00 260.53 L 108.82 259.97 L 109.63 262.33 L 111.26 262.12 L 112.07 264.58 L 112.88 263.92 L 113.70 264.48 L 115.32 264.48 L 116.14 266.63 L 116.95 266.63 L 117.77 267.18 L 119.39 267.08 L 120.21 268.32 L 122.65 268.66 L 125.90 268.78 L 145.43 268.91 L 146.24 269.43 L 156.01 269.43 L 156.82 270.02 L 398.48 270.02 L 398.48 270.02 " clip-path="url(#p887e0a58e9)" style="fill: none; stroke: #bcbd22; stroke-width: 0.75; stroke-linecap: square"/> </g> <g id="line2d_82"> <path d="M 73.83 235.36 L 398.48 235.36 L 398.48 235.36 " clip-path="url(#p887e0a58e9)" style="fill: none; stroke: #17becf; stroke-width: 0.75; stroke-linecap: square"/> </g> <g id="line2d_83"> <path d="M 73.83 234.73 L 76.27 234.81 L 77.08 234.59 L 78.71 234.77 L 79.52 234.90 L 80.34 234.66 L 81.15 234.76 L 81.96 234.66 L 82.78 234.74 L 84.41 234.64 L 86.85 234.96 L 88.47 234.85 L 89.29 234.81 L 90.10 234.53 L 92.54 235.10 L 93.36 235.14 L 94.17 234.98 L 94.98 235.28 L 95.80 235.03 L 96.61 235.26 L 97.42 234.98 L 99.87 234.87 L 100.68 235.13 L 101.49 235.17 L 103.12 235.03 L 103.93 235.16 L 104.75 235.11 L 106.37 235.34 L 108.82 234.94 L 109.63 234.95 L 111.26 235.25 L 112.88 235.00 L 113.70 235.07 L 114.51 235.27 L 115.32 235.22 L 116.95 235.35 L 121.02 235.21 L 121.83 235.30 L 123.46 235.32 L 124.28 235.49 L 125.09 235.26 L 125.90 235.27 L 127.53 235.11 L 128.34 235.00 L 131.60 235.24 L 132.41 234.89 L 133.23 235.23 L 136.48 235.22 L 139.74 234.98 L 140.55 235.24 L 141.36 235.16 L 142.99 235.18 L 144.62 235.02 L 145.43 235.24 L 146.24 235.32 L 148.69 234.88 L 155.19 235.22 L 156.82 235.41 L 157.64 235.21 L 160.89 235.20 L 165.77 235.09 L 169.84 235.34 L 171.47 235.04 L 172.28 234.99 L 173.91 235.12 L 175.54 235.13 L 177.16 234.89 L 177.98 235.07 L 178.79 234.98 L 180.42 235.26 L 182.05 235.40 L 184.49 235.10 L 185.30 235.15 L 186.11 235.37 L 186.93 235.16 L 192.62 234.87 L 193.44 235.04 L 194.25 234.90 L 197.51 235.08 L 199.13 235.24 L 199.95 235.32 L 202.39 235.22 L 203.20 235.37 L 204.02 235.25 L 204.83 235.27 L 206.46 234.95 L 208.90 235.09 L 209.71 235.02 L 210.52 235.24 L 211.34 235.13 L 212.15 235.33 L 214.59 235.13 L 216.22 234.83 L 217.03 234.97 L 218.66 234.94 L 219.47 235.06 L 220.29 234.94 L 221.10 235.08 L 221.92 235.02 L 222.73 235.26 L 223.54 235.06 L 224.36 235.20 L 225.17 235.00 L 226.80 235.06 L 228.43 234.82 L 230.05 234.92 L 231.68 235.29 L 232.49 235.46 L 234.12 235.03 L 236.56 234.93 L 239.82 235.10 L 240.63 234.95 L 241.44 235.10 L 242.26 235.02 L 245.51 235.10 L 246.33 235.03 L 247.14 235.09 L 247.95 234.85 L 248.77 235.05 L 252.02 235.25 L 252.84 235.09 L 253.65 235.11 L 254.46 235.29 L 255.28 235.24 L 256.09 235.37 L 257.72 235.18 L 260.97 235.01 L 261.79 235.08 L 263.41 235.03 L 265.04 235.20 L 265.85 235.04 L 266.67 235.14 L 269.92 235.08 L 270.74 235.25 L 271.55 235.07 L 273.18 234.92 L 274.80 234.96 L 277.25 234.99 L 278.06 235.08 L 278.87 235.03 L 279.69 235.13 L 280.50 235.35 L 281.31 235.38 L 282.94 234.97 L 286.20 235.29 L 287.01 235.41 L 289.45 235.20 L 290.26 235.33 L 299.21 235.16 L 300.03 235.30 L 301.66 235.17 L 304.10 235.21 L 305.72 235.21 L 306.54 235.34 L 308.16 235.15 L 310.61 235.03 L 311.42 235.14 L 312.23 234.99 L 313.05 235.20 L 314.67 234.94 L 315.49 234.96 L 316.30 235.33 L 317.93 235.07 L 320.37 235.08 L 321.18 235.30 L 322.81 234.82 L 323.62 235.00 L 325.25 235.10 L 326.07 235.22 L 327.69 234.95 L 329.32 235.15 L 330.13 235.07 L 333.39 235.37 L 334.20 235.25 L 335.02 235.33 L 335.83 235.05 L 336.64 235.04 L 337.46 234.91 L 339.90 235.14 L 343.97 235.03 L 344.78 234.89 L 346.41 234.98 L 348.03 235.29 L 348.85 235.20 L 351.29 235.42 L 353.73 235.18 L 354.54 235.20 L 355.36 234.92 L 356.17 235.04 L 357.80 234.88 L 358.61 234.86 L 359.43 235.00 L 360.24 234.82 L 361.87 235.10 L 362.68 235.03 L 364.31 235.24 L 365.12 234.96 L 365.94 234.85 L 370.00 235.50 L 371.63 235.41 L 372.44 235.11 L 373.26 235.12 L 374.07 234.98 L 375.70 235.22 L 376.51 234.90 L 377.33 235.06 L 378.14 234.90 L 378.95 234.99 L 379.77 235.31 L 380.58 235.29 L 381.40 235.07 L 383.02 234.93 L 384.65 235.07 L 385.46 235.07 L 386.28 235.25 L 388.72 235.10 L 390.35 235.07 L 391.16 235.24 L 391.97 235.02 L 394.41 235.03 L 395.23 234.96 L 396.85 235.30 L 398.48 235.21 L 398.48 235.21 " clip-path="url(#p887e0a58e9)" style="fill: none; stroke: #1f77b4; stroke-width: 0.75; stroke-linecap: square"/> </g> <g id="patch_15"> <path d="M 57.6 307.58 L 57.6 229.31 " style="fill: none; stroke: #000000; stroke-width: 0.8; stroke-linejoin: miter; stroke-linecap: square"/> </g> <g id="patch_16"> <path d="M 414.72 307.58 L 414.72 229.31 " style="fill: none; stroke: #000000; stroke-width: 0.8; stroke-linejoin: miter; stroke-linecap: square"/> </g> <g id="patch_17"> <path d="M 57.6 307.58 L 414.72 307.58 " style="fill: none; stroke: #000000; stroke-width: 0.8; stroke-linejoin: miter; stroke-linecap: square"/> </g> <g id="patch_18"> <path d="M 57.6 229.31 L 414.72 229.31 " style="fill: none; stroke: #000000; stroke-width: 0.8; stroke-linejoin: miter; stroke-linecap: square"/> </g> <g id="text_57"> <g style="font-size:12.66px;font-family:'Liberation Sans',sans-serif;font-kerning:none" transform="rotate(-0 236.16 223.31)"><text x="6.95" y="223.32" textLength="6.78" lengthAdjust="spacingAndGlyphs" font-size="13.01">2</text><text x="14.67" y="223.32" textLength="7.04" lengthAdjust="spacingAndGlyphs" font-size="13.01">0</text><text x="22.29" y="223.32" textLength="6.78" lengthAdjust="spacingAndGlyphs" font-size="13.01">2</text><text x="30.17" y="223.32" textLength="6.64" lengthAdjust="spacingAndGlyphs" font-size="12.97">5</text><text x="37.67" y="223.32" textLength="7.04" lengthAdjust="spacingAndGlyphs" font-size="13.01">0</text><text x="45.37" y="223.32" textLength="6.88" lengthAdjust="spacingAndGlyphs" font-size="12.97">7</text><text x="52.94" y="223.32" textLength="6.78" lengthAdjust="spacingAndGlyphs" font-size="13.01">2</text><text x="60.64" y="223.32" textLength="6.78" lengthAdjust="spacingAndGlyphs" font-size="13.01">2</text><text x="68.46" y="223.32" textLength="6.72" lengthAdjust="spacingAndGlyphs" font-size="12.97">1</text><text x="75.86" y="223.32" textLength="7.27" lengthAdjust="spacingAndGlyphs" font-size="13.01">9</text><text x="83.66" y="223.32" textLength="7.04" lengthAdjust="spacingAndGlyphs" font-size="13.01">0</text><text x="91.47" y="223.32" textLength="6.76" lengthAdjust="spacingAndGlyphs" font-size="13.01">3</text><text x="99.12" y="223.32" textLength="6.64" lengthAdjust="spacingAndGlyphs" font-size="12.97">5</text><text x="106.59" y="223.32" textLength="6.78" lengthAdjust="spacingAndGlyphs" font-size="13.01">2</text><text x="118.06" y="223.32" textLength="3.61" lengthAdjust="spacingAndGlyphs" font-size="11.98">:</text><text x="125.78" y="223.32" textLength="5.12" lengthAdjust="spacingAndGlyphs" font-size="12.74">r</text><text x="130.93" y="223.32" textLength="6.00" lengthAdjust="spacingAndGlyphs" font-size="12.74">a</text><text x="138.23" y="223.32" textLength="7.20" lengthAdjust="spacingAndGlyphs" font-size="12.74">n</text><text x="145.72" y="223.32" textLength="7.25" lengthAdjust="spacingAndGlyphs" font-size="12.83">d</text><text x="153.38" y="223.32" textLength="7.10" lengthAdjust="spacingAndGlyphs" font-size="12.74">o</text><text x="160.82" y="223.32" textLength="11.39" lengthAdjust="spacingAndGlyphs" font-size="12.74">m</text><text x="176.43" y="223.32" textLength="3.61" lengthAdjust="spacingAndGlyphs" font-size="11.98">:</text><text x="184.20" y="223.32" textLength="7.21" lengthAdjust="spacingAndGlyphs" font-size="12.74">e</text><text x="191.51" y="223.32" textLength="5.95" lengthAdjust="spacingAndGlyphs">_</text><text x="197.89" y="223.32" textLength="6.88" lengthAdjust="spacingAndGlyphs" font-size="12.97">7</text><text x="205.24" y="223.32" textLength="5.95" lengthAdjust="spacingAndGlyphs">_</text><text x="211.32" y="223.32" textLength="4.38" lengthAdjust="spacingAndGlyphs" font-size="12.85">f</text><text x="215.62" y="223.32" textLength="7.10" lengthAdjust="spacingAndGlyphs" font-size="12.74">o</text><text x="223.01" y="223.32" textLength="7.10" lengthAdjust="spacingAndGlyphs" font-size="12.74">o</text><text x="230.37" y="223.32" textLength="7.25" lengthAdjust="spacingAndGlyphs" font-size="12.83">d</text><text x="237.96" y="223.32" textLength="5.95" lengthAdjust="spacingAndGlyphs">_</text><text x="244.10" y="223.32" textLength="7.25" lengthAdjust="spacingAndGlyphs" font-size="12.83">d</text><text x="251.71" y="223.32" textLength="5.12" lengthAdjust="spacingAndGlyphs" font-size="12.74">r</text><text x="256.90" y="223.32" textLength="2.73" lengthAdjust="spacingAndGlyphs" font-size="12.83">i</text><text x="260.15" y="223.32" textLength="7.20" lengthAdjust="spacingAndGlyphs" font-size="12.74">n</text><text x="267.71" y="223.32" textLength="6.71" lengthAdjust="spacingAndGlyphs" font-size="12.83">k</text><text x="274.50" y="223.32" textLength="5.95" lengthAdjust="spacingAndGlyphs">_</text><text x="280.72" y="223.32" textLength="7.25" lengthAdjust="spacingAndGlyphs" font-size="12.83">h</text><text x="288.26" y="223.32" textLength="7.10" lengthAdjust="spacingAndGlyphs" font-size="12.74">o</text><text x="295.70" y="223.32" textLength="11.39" lengthAdjust="spacingAndGlyphs" font-size="12.74">m</text><text x="307.37" y="223.32" textLength="7.21" lengthAdjust="spacingAndGlyphs" font-size="12.74">e</text><text x="314.77" y="223.32" textLength="7.10" lengthAdjust="spacingAndGlyphs" font-size="12.74">o</text><text x="322.35" y="223.32" textLength="5.75" lengthAdjust="spacingAndGlyphs" font-size="12.77">s</text><text x="328.36" y="223.32" textLength="4.46" lengthAdjust="spacingAndGlyphs" font-size="13.29">t</text><text x="333.22" y="223.32" textLength="6.00" lengthAdjust="spacingAndGlyphs" font-size="12.74">a</text><text x="340.62" y="223.32" textLength="5.75" lengthAdjust="spacingAndGlyphs" font-size="12.77">s</text><text x="346.86" y="223.32" textLength="2.73" lengthAdjust="spacingAndGlyphs" font-size="12.83">i</text><text x="350.21" y="223.32" textLength="5.75" lengthAdjust="spacingAndGlyphs" font-size="12.77">s</text><text x="356.18" y="223.32" textLength="5.95" lengthAdjust="spacingAndGlyphs">_</text><text x="362.32" y="223.32" textLength="7.25" lengthAdjust="spacingAndGlyphs">g</text><text x="369.99" y="223.32" textLength="7.10" lengthAdjust="spacingAndGlyphs" font-size="12.74">o</text><text x="377.55" y="223.32" textLength="2.73" lengthAdjust="spacingAndGlyphs" font-size="12.83">l</text><text x="380.69" y="223.32" textLength="7.25" lengthAdjust="spacingAndGlyphs" font-size="12.83">d</text><text x="392.30" y="223.32" textLength="7.26" lengthAdjust="spacingAndGlyphs" font-size="12.83">b</text><text x="400.02" y="223.32" textLength="6.44" lengthAdjust="spacingAndGlyphs">y</text><text x="410.31" y="223.32" textLength="8.00" lengthAdjust="spacingAndGlyphs" font-size="12.97">T</text><text x="416.06" y="223.32" textLength="7.21" lengthAdjust="spacingAndGlyphs" font-size="12.74">e</text><text x="423.66" y="223.32" textLength="5.75" lengthAdjust="spacingAndGlyphs" font-size="12.77">s</text><text x="429.66" y="223.32" textLength="4.46" lengthAdjust="spacingAndGlyphs" font-size="13.29">t</text><text x="438.39" y="223.32" textLength="7.14" lengthAdjust="spacingAndGlyphs" font-size="13.01">S</text><text x="445.82" y="223.32" textLength="4.46" lengthAdjust="spacingAndGlyphs" font-size="13.29">t</text><text x="450.53" y="223.32" textLength="7.21" lengthAdjust="spacingAndGlyphs" font-size="12.74">e</text><text x="458.05" y="223.32" textLength="7.26" lengthAdjust="spacingAndGlyphs">p</text></g> </g> <g id="legend_3"> <g id="patch_19"> <path d="M 259.26 302.58 L 407.72 302.58 Q 409.72 302.58 409.72 300.58 L 409.72 134.26 Q 409.72 132.26 407.72 132.26 L 259.26 132.26 Q 257.26 132.26 257.26 134.26 L 257.26 300.58 Q 257.26 302.58 259.26 302.58 z " style="fill: #ffffff; opacity: 0.8; stroke: #cccccc; stroke-linejoin: miter"/> </g> <g id="line2d_84"> <path d="M 261.26 140.68 L 271.26 140.68 L 281.26 140.68 " style="fill: none; stroke: #1f77b4; stroke-width: 0.75; stroke-linecap: square"/> </g> <g id="text_58"> <g style="font-size:10.55px;font-family:'Liberation Sans',sans-serif;font-kerning:none" transform="rotate(-0 289.26 144.18)"><text x="289.74" y="144.18" textLength="6.83" lengthAdjust="spacingAndGlyphs" font-size="10.81">R</text><text x="296.05" y="144.18" textLength="5.94" lengthAdjust="spacingAndGlyphs" font-size="10.62">e</text><text x="302.43" y="144.18" textLength="7.22" lengthAdjust="spacingAndGlyphs" font-size="10.56">w</text><text x="310.32" y="144.18" textLength="4.94" lengthAdjust="spacingAndGlyphs" font-size="10.62">a</text><text x="316.21" y="144.18" textLength="4.22" lengthAdjust="spacingAndGlyphs" font-size="10.62">r</text><text x="320.16" y="144.18" textLength="5.97" lengthAdjust="spacingAndGlyphs" font-size="10.69">d</text></g> </g> <g id="line2d_85"> <path d="M 261.26 155.76 L 271.26 155.76 L 281.26 155.76 " style="fill: none; stroke: #ff7f0e; stroke-width: 0.75; stroke-linecap: square"/> </g> <g id="text_59"> <g style="font-size:10.55px;font-family:'Liberation Sans',sans-serif;font-kerning:none" transform="rotate(-0 289.26 159.26)"><text x="289.76" y="159.26" textLength="5.83" lengthAdjust="spacingAndGlyphs" font-size="10.84">S</text><text x="295.86" y="159.26" textLength="4.92" lengthAdjust="spacingAndGlyphs" font-size="10.62">c</text><text x="301.23" y="159.26" textLength="5.80" lengthAdjust="spacingAndGlyphs" font-size="10.62">o</text><text x="307.14" y="159.26" textLength="4.19" lengthAdjust="spacingAndGlyphs" font-size="10.62">r</text><text x="311.02" y="159.26" textLength="5.89" lengthAdjust="spacingAndGlyphs" font-size="10.62">e</text></g> </g> <g id="line2d_86"> <path d="M 261.26 170.84 L 271.26 170.84 L 281.26 170.84 " style="fill: none; stroke: #2ca02c; stroke-width: 0.75; stroke-linecap: square"/> </g> <g id="text_60"> <g style="font-size:10.55px;font-family:'Liberation Sans',sans-serif;font-kerning:none" transform="rotate(-0 289.26 174.34)"><text x="289.74" y="174.34" textLength="6.83" lengthAdjust="spacingAndGlyphs" font-size="10.81">R</text><text x="296.05" y="174.34" textLength="5.94" lengthAdjust="spacingAndGlyphs" font-size="10.62">e</text><text x="302.43" y="174.34" textLength="7.22" lengthAdjust="spacingAndGlyphs" font-size="10.56">w</text><text x="310.32" y="174.34" textLength="4.94" lengthAdjust="spacingAndGlyphs" font-size="10.62">a</text><text x="316.21" y="174.34" textLength="4.22" lengthAdjust="spacingAndGlyphs" font-size="10.62">r</text><text x="320.16" y="174.34" textLength="5.97" lengthAdjust="spacingAndGlyphs" font-size="10.69">d</text></g> </g> <g id="line2d_87"> <path d="M 261.26 185.92 L 271.26 185.92 L 281.26 185.92 " style="fill: none; stroke: #d62728; stroke-width: 0.75; stroke-linecap: square"/> </g> <g id="text_61"> <g style="font-size:10.55px;font-family:'Liberation Sans',sans-serif;font-kerning:none" transform="rotate(-0 289.26 189.42)"><text x="289.76" y="189.42" textLength="5.83" lengthAdjust="spacingAndGlyphs" font-size="10.84">S</text><text x="295.86" y="189.42" textLength="4.92" lengthAdjust="spacingAndGlyphs" font-size="10.62">c</text><text x="301.23" y="189.42" textLength="5.80" lengthAdjust="spacingAndGlyphs" font-size="10.62">o</text><text x="307.14" y="189.42" textLength="4.19" lengthAdjust="spacingAndGlyphs" font-size="10.62">r</text><text x="311.02" y="189.42" textLength="5.89" lengthAdjust="spacingAndGlyphs" font-size="10.62">e</text></g> </g> <g id="line2d_88"> <path d="M 261.26 201.00 L 271.26 201.00 L 281.26 201.00 " style="fill: none; stroke: #9467bd; stroke-width: 0.75; stroke-linecap: square"/> </g> <g id="text_62"> <g style="font-size:10.55px;font-family:'Liberation Sans',sans-serif;font-kerning:none" transform="rotate(-0 289.26 204.50)"><text x="289.69" y="204.50" textLength="7.32" lengthAdjust="spacingAndGlyphs" font-size="10.81">D</text><text x="297.29" y="204.50" textLength="6.77" lengthAdjust="spacingAndGlyphs" font-size="10.81">R</text><text x="303.90" y="204.50" textLength="2.88" lengthAdjust="spacingAndGlyphs" font-size="10.81">I</text><text x="306.97" y="204.50" textLength="6.99" lengthAdjust="spacingAndGlyphs" font-size="10.81">N</text><text x="314.28" y="204.50" textLength="6.59" lengthAdjust="spacingAndGlyphs" font-size="10.81">K</text></g> </g> <g id="line2d_89"> <path d="M 261.26 216.08 L 271.26 216.08 L 281.26 216.08 " style="fill: none; stroke: #8c564b; stroke-width: 0.75; stroke-linecap: square"/> </g> <g id="text_63"> <g style="font-size:10.55px;font-family:'Liberation Sans',sans-serif;font-kerning:none" transform="rotate(-0 289.26 219.58)"><text x="289.68" y="219.58" textLength="7.44" lengthAdjust="spacingAndGlyphs" font-size="10.81">D</text><text x="297.40" y="219.58" textLength="6.88" lengthAdjust="spacingAndGlyphs" font-size="10.81">R</text><text x="304.11" y="219.58" textLength="2.93" lengthAdjust="spacingAndGlyphs" font-size="10.81">I</text><text x="307.23" y="219.58" textLength="7.10" lengthAdjust="spacingAndGlyphs" font-size="10.81">N</text><text x="314.65" y="219.58" textLength="6.70" lengthAdjust="spacingAndGlyphs" font-size="10.81">K</text><text x="321.07" y="219.58" textLength="4.94" lengthAdjust="spacingAndGlyphs">_</text><text x="326.14" y="219.58" textLength="7.44" lengthAdjust="spacingAndGlyphs" font-size="10.81">D</text><text x="333.94" y="219.58" textLength="5.75" lengthAdjust="spacingAndGlyphs" font-size="10.81">E</text><text x="340.27" y="219.58" textLength="5.21" lengthAdjust="spacingAndGlyphs" font-size="10.81">F</text><text x="345.73" y="219.58" textLength="2.93" lengthAdjust="spacingAndGlyphs" font-size="10.81">I</text><text x="348.77" y="219.58" textLength="6.67" lengthAdjust="spacingAndGlyphs" font-size="10.84">C</text><text x="355.63" y="219.58" textLength="2.93" lengthAdjust="spacingAndGlyphs" font-size="10.81">I</text><text x="358.85" y="219.58" textLength="5.75" lengthAdjust="spacingAndGlyphs" font-size="10.81">E</text><text x="365.07" y="219.58" textLength="7.10" lengthAdjust="spacingAndGlyphs" font-size="10.81">N</text><text x="372.42" y="219.58" textLength="6.67" lengthAdjust="spacingAndGlyphs" font-size="10.84">C</text><text x="378.86" y="219.58" textLength="6.55" lengthAdjust="spacingAndGlyphs" font-size="10.81">Y</text></g> </g> <g id="line2d_90"> <path d="M 261.26 231.52 L 271.26 231.52 L 281.26 231.52 " style="fill: none; stroke: #e377c2; stroke-width: 0.75; stroke-linecap: square"/> </g> <g id="text_64"> <g style="font-size:10.55px;font-family:'Liberation Sans',sans-serif;font-kerning:none" transform="rotate(-0 289.26 235.02)"><text x="289.67" y="235.02" textLength="7.45" lengthAdjust="spacingAndGlyphs" font-size="10.81">D</text><text x="297.41" y="235.02" textLength="6.88" lengthAdjust="spacingAndGlyphs" font-size="10.81">R</text><text x="304.12" y="235.02" textLength="2.93" lengthAdjust="spacingAndGlyphs" font-size="10.81">I</text><text x="307.25" y="235.02" textLength="7.11" lengthAdjust="spacingAndGlyphs" font-size="10.81">N</text><text x="314.68" y="235.02" textLength="6.70" lengthAdjust="spacingAndGlyphs" font-size="10.81">K</text><text x="321.11" y="235.02" textLength="4.94" lengthAdjust="spacingAndGlyphs">_</text><text x="326.14" y="235.02" textLength="7.66" lengthAdjust="spacingAndGlyphs" font-size="10.84">O</text><text x="333.71" y="235.02" textLength="6.75" lengthAdjust="spacingAndGlyphs" font-size="10.81">V</text><text x="340.76" y="235.02" textLength="5.76" lengthAdjust="spacingAndGlyphs" font-size="10.81">E</text><text x="347.01" y="235.02" textLength="6.88" lengthAdjust="spacingAndGlyphs" font-size="10.81">R</text><text x="353.97" y="235.02" textLength="5.93" lengthAdjust="spacingAndGlyphs" font-size="10.84">S</text><text x="360.28" y="235.02" textLength="6.70" lengthAdjust="spacingAndGlyphs" font-size="10.81">A</text><text x="366.00" y="235.02" textLength="6.64" lengthAdjust="spacingAndGlyphs" font-size="10.81">T</text><text x="372.34" y="235.02" textLength="2.93" lengthAdjust="spacingAndGlyphs" font-size="10.81">I</text><text x="375.35" y="235.02" textLength="6.70" lengthAdjust="spacingAndGlyphs" font-size="10.81">A</text><text x="381.07" y="235.02" textLength="6.64" lengthAdjust="spacingAndGlyphs" font-size="10.81">T</text><text x="387.40" y="235.02" textLength="2.93" lengthAdjust="spacingAndGlyphs" font-size="10.81">I</text><text x="390.45" y="235.02" textLength="7.66" lengthAdjust="spacingAndGlyphs" font-size="10.84">O</text><text x="398.33" y="235.02" textLength="7.11" lengthAdjust="spacingAndGlyphs" font-size="10.81">N</text></g> </g> <g id="line2d_91"> <path d="M 261.26 246.96 L 271.26 246.96 L 281.26 246.96 " style="fill: none; stroke: #7f7f7f; stroke-width: 0.75; stroke-linecap: square"/> </g> <g id="text_65"> <g style="font-size:10.55px;font-family:'Liberation Sans',sans-serif;font-kerning:none" transform="rotate(-0 289.26 250.46)"><text x="289.83" y="250.46" textLength="5.13" lengthAdjust="spacingAndGlyphs" font-size="10.81">F</text><text x="295.29" y="250.46" textLength="7.54" lengthAdjust="spacingAndGlyphs" font-size="10.84">O</text><text x="302.97" y="250.46" textLength="7.54" lengthAdjust="spacingAndGlyphs" font-size="10.84">O</text><text x="310.68" y="250.46" textLength="7.32" lengthAdjust="spacingAndGlyphs" font-size="10.81">D</text></g> </g> <g id="line2d_92"> <path d="M 261.26 262.04 L 271.26 262.04 L 281.26 262.04 " style="fill: none; stroke: #bcbd22; stroke-width: 0.75; stroke-linecap: square"/> </g> <g id="text_66"> <g style="font-size:10.55px;font-family:'Liberation Sans',sans-serif;font-kerning:none" transform="rotate(-0 289.26 265.54)"><text x="289.82" y="265.54" textLength="5.21" lengthAdjust="spacingAndGlyphs" font-size="10.81">F</text><text x="295.37" y="265.54" textLength="7.65" lengthAdjust="spacingAndGlyphs" font-size="10.84">O</text><text x="303.16" y="265.54" textLength="7.65" lengthAdjust="spacingAndGlyphs" font-size="10.84">O</text><text x="311.00" y="265.54" textLength="7.44" lengthAdjust="spacingAndGlyphs" font-size="10.81">D</text><text x="318.56" y="265.54" textLength="4.94" lengthAdjust="spacingAndGlyphs">_</text><text x="323.63" y="265.54" textLength="7.44" lengthAdjust="spacingAndGlyphs" font-size="10.81">D</text><text x="331.43" y="265.54" textLength="5.75" lengthAdjust="spacingAndGlyphs" font-size="10.81">E</text><text x="337.75" y="265.54" textLength="5.21" lengthAdjust="spacingAndGlyphs" font-size="10.81">F</text><text x="343.21" y="265.54" textLength="2.92" lengthAdjust="spacingAndGlyphs" font-size="10.81">I</text><text x="346.25" y="265.54" textLength="6.67" lengthAdjust="spacingAndGlyphs" font-size="10.84">C</text><text x="353.11" y="265.54" textLength="2.92" lengthAdjust="spacingAndGlyphs" font-size="10.81">I</text><text x="356.33" y="265.54" textLength="5.75" lengthAdjust="spacingAndGlyphs" font-size="10.81">E</text><text x="362.55" y="265.54" textLength="7.10" lengthAdjust="spacingAndGlyphs" font-size="10.81">N</text><text x="369.91" y="265.54" textLength="6.67" lengthAdjust="spacingAndGlyphs" font-size="10.84">C</text><text x="376.34" y="265.54" textLength="6.55" lengthAdjust="spacingAndGlyphs" font-size="10.81">Y</text></g> </g> <g id="line2d_93"> <path d="M 261.26 277.48 L 271.26 277.48 L 281.26 277.48 " style="fill: none; stroke: #17becf; stroke-width: 0.75; stroke-linecap: square"/> </g> <g id="text_67"> <g style="font-size:10.55px;font-family:'Liberation Sans',sans-serif;font-kerning:none" transform="rotate(-0 289.26 280.98)"><text x="289.82" y="280.98" textLength="5.22" lengthAdjust="spacingAndGlyphs" font-size="10.81">F</text><text x="295.38" y="280.98" textLength="7.66" lengthAdjust="spacingAndGlyphs" font-size="10.84">O</text><text x="303.18" y="280.98" textLength="7.66" lengthAdjust="spacingAndGlyphs" font-size="10.84">O</text><text x="311.02" y="280.98" textLength="7.45" lengthAdjust="spacingAndGlyphs" font-size="10.81">D</text><text x="318.59" y="280.98" textLength="4.94" lengthAdjust="spacingAndGlyphs">_</text><text x="323.63" y="280.98" textLength="7.66" lengthAdjust="spacingAndGlyphs" font-size="10.84">O</text><text x="331.19" y="280.98" textLength="6.75" lengthAdjust="spacingAndGlyphs" font-size="10.81">V</text><text x="338.24" y="280.98" textLength="5.76" lengthAdjust="spacingAndGlyphs" font-size="10.81">E</text><text x="344.49" y="280.98" textLength="6.88" lengthAdjust="spacingAndGlyphs" font-size="10.81">R</text><text x="351.46" y="280.98" textLength="5.93" lengthAdjust="spacingAndGlyphs" font-size="10.84">S</text><text x="357.76" y="280.98" textLength="6.70" lengthAdjust="spacingAndGlyphs" font-size="10.81">A</text><text x="363.49" y="280.98" textLength="6.64" lengthAdjust="spacingAndGlyphs" font-size="10.81">T</text><text x="369.82" y="280.98" textLength="2.93" lengthAdjust="spacingAndGlyphs" font-size="10.81">I</text><text x="372.83" y="280.98" textLength="6.70" lengthAdjust="spacingAndGlyphs" font-size="10.81">A</text><text x="378.55" y="280.98" textLength="6.64" lengthAdjust="spacingAndGlyphs" font-size="10.81">T</text><text x="384.89" y="280.98" textLength="2.93" lengthAdjust="spacingAndGlyphs" font-size="10.81">I</text><text x="387.93" y="280.98" textLength="7.66" lengthAdjust="spacingAndGlyphs" font-size="10.84">O</text><text x="395.81" y="280.98" textLength="7.11" lengthAdjust="spacingAndGlyphs" font-size="10.81">N</text></g> </g> <g id="line2d_94"> <path d="M 261.26 292.92 L 271.26 292.92 L 281.26 292.92 " style="fill: none; stroke: #1f77b4; stroke-width: 0.75; stroke-linecap: square"/> </g> <g id="text_68"> <g style="font-size:10.55px;font-family:'Liberation Sans',sans-serif;font-kerning:none" transform="rotate(-0 289.26 296.42)"><text x="289.68" y="296.42" textLength="7.41" lengthAdjust="spacingAndGlyphs" font-size="10.84">G</text><text x="297.22" y="296.42" textLength="7.51" lengthAdjust="spacingAndGlyphs" font-size="10.84">O</text><text x="304.90" y="296.42" textLength="5.59" lengthAdjust="spacingAndGlyphs" font-size="10.81">L</text><text x="310.35" y="296.42" textLength="7.30" lengthAdjust="spacingAndGlyphs" font-size="10.81">D</text></g> </g> </g> </g> </g> <defs> <clipPath id="p823a77c8c9"> <rect x="57.6" y="41.47" width="357.12" height="78.26"/> </clipPath> <clipPath id="p887e0a58e9"> <rect x="57.6" y="229.31" width="357.12" height="78.26"/> </clipPath> </defs> </svg> 
</body></html>
